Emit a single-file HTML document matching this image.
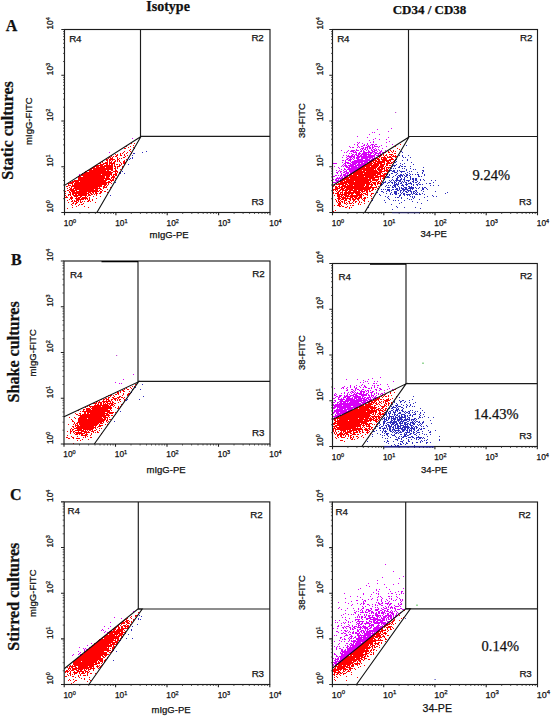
<!DOCTYPE html>
<html><head><meta charset="utf-8"><title>Flow cytometry CD34/CD38</title>
<style>html,body{margin:0;padding:0;background:#fff;width:551px;height:716px;overflow:hidden}svg{display:block}</style>
</head><body>
<svg width="551" height="716" viewBox="0 0 551 716" font-family='"Liberation Sans", sans-serif' fill="#111">
<style>text{stroke:#111;stroke-width:0.25px}</style>
<rect width="551" height="716" fill="#fff"/>
<g stroke-width="1" transform="translate(0,0.5)"><path stroke="#ff0000" d="M65 191h1M65 193h1M65 195h1M65 197h1M66 186h1M66 196h1M66 197h1M66 212h1M67 183h1M67 186h1M67 188h1M67 190h1M67 197h1M67 200h1M67 208h1M68 183h1M68 184h1M68 185h1M68 190h1M68 194h1M68 195h1M68 202h1M68 212h1M69 183h1M69 185h1M69 187h1M69 189h1M69 191h1M69 192h1M69 194h1M69 199h1M69 212h1M70 182h1M70 183h1M70 185h1M70 188h1M70 189h1M70 190h1M70 192h1M70 193h1M70 194h1M70 195h1M70 197h1M70 198h1M71 182h1M71 183h1M71 186h1M71 187h1M71 188h1M71 189h1M71 190h1M71 191h1M71 196h1M71 197h1M71 198h1M71 199h1M71 201h1M71 204h1M72 181h1M72 182h1M72 183h1M72 184h1M72 185h1M72 186h1M72 189h1M72 190h1M72 191h1M72 192h1M72 193h1M72 194h1M72 197h1M72 198h1M72 200h1M72 201h1M72 203h1M72 205h1M72 207h1M73 181h1M73 182h1M73 185h1M73 186h1M73 188h1M73 189h1M73 190h1M73 191h1M73 192h1M73 193h1M73 194h1M73 195h1M73 202h1M73 203h1M74 180h1M74 181h1M74 183h1M74 184h1M74 185h1M74 186h1M74 187h1M74 188h1M74 190h1M74 191h1M74 192h1M74 193h1M74 195h1M74 196h1M74 200h1M74 201h1M75 180h1M75 181h1M75 182h1M75 183h1M75 184h1M75 185h1M75 186h1M75 187h1M75 188h1M75 189h1M75 190h1M75 192h1M75 193h1M75 194h1M75 195h1M75 196h1M75 198h1M75 201h1M75 203h1M75 204h1M76 177h1M76 180h1M76 181h1M76 182h1M76 183h1M76 184h1M76 185h1M76 186h1M76 187h1M76 188h1M76 189h1M76 190h1M76 191h1M76 192h1M76 193h1M76 194h1M76 195h1M76 196h1M76 197h1M76 198h1M76 199h1M76 200h1M76 201h1M76 202h1M76 203h1M76 206h1M77 180h1M77 181h1M77 182h1M77 183h1M77 184h1M77 185h1M77 186h1M77 187h1M77 188h1M77 189h1M77 191h1M77 192h1M77 193h1M77 195h1M77 196h1M77 198h1M77 199h1M77 200h1M77 202h1M78 176h1M78 177h1M78 178h1M78 179h1M78 180h1M78 181h1M78 182h1M78 183h1M78 184h1M78 185h1M78 186h1M78 187h1M78 188h1M78 189h1M78 191h1M78 192h1M78 193h1M78 194h1M78 195h1M78 197h1M78 198h1M78 199h1M78 200h1M78 201h1M78 205h1M79 175h1M79 176h1M79 177h1M79 178h1M79 179h1M79 180h1M79 182h1M79 183h1M79 184h1M79 185h1M79 186h1M79 187h1M79 188h1M79 189h1M79 190h1M79 191h1M79 192h1M79 193h1M79 194h1M79 195h1M79 197h1M79 198h1M79 199h1M79 204h1M80 176h1M80 177h1M80 178h1M80 179h1M80 180h1M80 181h1M80 182h1M80 183h1M80 184h1M80 185h1M80 186h1M80 187h1M80 188h1M80 189h1M80 190h1M80 191h1M80 192h1M80 193h1M80 194h1M80 195h1M80 196h1M80 197h1M80 199h1M80 200h1M80 201h1M80 202h1M81 174h1M81 175h1M81 177h1M81 178h1M81 179h1M81 180h1M81 181h1M81 182h1M81 183h1M81 184h1M81 185h1M81 186h1M81 187h1M81 188h1M81 189h1M81 190h1M81 191h1M81 192h1M81 193h1M81 194h1M81 195h1M81 196h1M81 198h1M81 199h1M81 202h1M81 204h1M82 173h1M82 174h1M82 175h1M82 177h1M82 178h1M82 179h1M82 180h1M82 181h1M82 182h1M82 183h1M82 184h1M82 185h1M82 186h1M82 187h1M82 188h1M82 189h1M82 190h1M82 191h1M82 192h1M82 193h1M82 194h1M82 195h1M82 197h1M82 198h1M82 199h1M82 201h1M82 204h1M83 174h1M83 175h1M83 176h1M83 177h1M83 178h1M83 179h1M83 180h1M83 181h1M83 182h1M83 183h1M83 184h1M83 185h1M83 186h1M83 187h1M83 188h1M83 189h1M83 190h1M83 191h1M83 192h1M83 193h1M83 194h1M83 195h1M83 197h1M83 198h1M83 199h1M83 203h1M84 172h1M84 173h1M84 174h1M84 175h1M84 176h1M84 177h1M84 178h1M84 179h1M84 180h1M84 181h1M84 182h1M84 183h1M84 184h1M84 185h1M84 186h1M84 187h1M84 188h1M84 189h1M84 190h1M84 191h1M84 192h1M84 193h1M84 194h1M84 195h1M84 197h1M84 198h1M84 201h1M84 206h1M85 171h1M85 172h1M85 173h1M85 174h1M85 175h1M85 176h1M85 177h1M85 178h1M85 179h1M85 180h1M85 181h1M85 182h1M85 183h1M85 184h1M85 185h1M85 186h1M85 187h1M85 188h1M85 189h1M85 190h1M85 191h1M85 192h1M85 193h1M85 194h1M85 195h1M85 196h1M85 197h1M85 198h1M85 199h1M86 171h1M86 172h1M86 173h1M86 174h1M86 175h1M86 176h1M86 177h1M86 178h1M86 179h1M86 180h1M86 181h1M86 182h1M86 183h1M86 184h1M86 185h1M86 186h1M86 187h1M86 188h1M86 189h1M86 190h1M86 191h1M86 192h1M86 193h1M86 194h1M86 195h1M86 197h1M86 198h1M87 170h1M87 172h1M87 173h1M87 174h1M87 175h1M87 176h1M87 177h1M87 178h1M87 179h1M87 180h1M87 181h1M87 182h1M87 183h1M87 184h1M87 185h1M87 186h1M87 187h1M87 188h1M87 189h1M87 190h1M87 191h1M87 193h1M87 196h1M87 198h1M87 199h1M87 201h1M88 170h1M88 172h1M88 173h1M88 174h1M88 175h1M88 176h1M88 177h1M88 178h1M88 179h1M88 180h1M88 181h1M88 182h1M88 183h1M88 184h1M88 185h1M88 186h1M88 187h1M88 188h1M88 189h1M88 190h1M88 191h1M88 192h1M88 193h1M88 194h1M88 195h1M88 200h1M88 201h1M88 207h1M89 170h1M89 171h1M89 172h1M89 173h1M89 174h1M89 175h1M89 176h1M89 177h1M89 178h1M89 179h1M89 180h1M89 181h1M89 182h1M89 183h1M89 184h1M89 185h1M89 186h1M89 187h1M89 188h1M89 189h1M89 190h1M89 191h1M89 192h1M89 194h1M89 195h1M89 197h1M89 198h1M89 199h1M89 200h1M90 169h1M90 170h1M90 171h1M90 172h1M90 173h1M90 174h1M90 175h1M90 176h1M90 177h1M90 178h1M90 179h1M90 180h1M90 181h1M90 182h1M90 183h1M90 184h1M90 185h1M90 186h1M90 187h1M90 188h1M90 189h1M90 190h1M90 191h1M90 192h1M90 193h1M90 195h1M90 201h1M91 168h1M91 169h1M91 170h1M91 171h1M91 172h1M91 173h1M91 174h1M91 175h1M91 176h1M91 177h1M91 178h1M91 179h1M91 180h1M91 181h1M91 182h1M91 183h1M91 184h1M91 185h1M91 186h1M91 187h1M91 188h1M91 189h1M91 190h1M91 191h1M91 193h1M91 194h1M92 167h1M92 168h1M92 170h1M92 171h1M92 172h1M92 173h1M92 174h1M92 175h1M92 176h1M92 177h1M92 178h1M92 179h1M92 180h1M92 181h1M92 182h1M92 183h1M92 184h1M92 185h1M92 186h1M92 187h1M92 188h1M92 189h1M92 190h1M92 191h1M92 192h1M92 194h1M92 199h1M92 200h1M93 167h1M93 168h1M93 169h1M93 170h1M93 171h1M93 172h1M93 173h1M93 174h1M93 175h1M93 176h1M93 177h1M93 178h1M93 179h1M93 180h1M93 181h1M93 182h1M93 183h1M93 184h1M93 185h1M93 186h1M93 187h1M93 188h1M93 189h1M93 190h1M93 191h1M93 192h1M93 193h1M93 196h1M94 166h1M94 167h1M94 168h1M94 169h1M94 170h1M94 171h1M94 172h1M94 173h1M94 174h1M94 175h1M94 176h1M94 177h1M94 178h1M94 179h1M94 180h1M94 181h1M94 182h1M94 183h1M94 184h1M94 185h1M94 186h1M94 187h1M94 188h1M94 190h1M94 191h1M94 194h1M95 165h1M95 166h1M95 168h1M95 169h1M95 170h1M95 171h1M95 172h1M95 173h1M95 174h1M95 175h1M95 176h1M95 177h1M95 178h1M95 179h1M95 180h1M95 181h1M95 182h1M95 183h1M95 184h1M95 185h1M95 186h1M95 187h1M95 188h1M95 189h1M95 190h1M95 191h1M95 192h1M95 193h1M95 202h1M96 165h1M96 166h1M96 167h1M96 168h1M96 169h1M96 170h1M96 171h1M96 172h1M96 173h1M96 174h1M96 175h1M96 176h1M96 177h1M96 178h1M96 179h1M96 180h1M96 181h1M96 182h1M96 183h1M96 184h1M96 185h1M96 186h1M96 187h1M96 188h1M96 189h1M96 190h1M96 191h1M96 192h1M96 193h1M96 194h1M96 195h1M96 198h1M97 165h1M97 166h1M97 167h1M97 168h1M97 169h1M97 170h1M97 171h1M97 172h1M97 173h1M97 174h1M97 175h1M97 176h1M97 177h1M97 178h1M97 179h1M97 180h1M97 181h1M97 182h1M97 183h1M97 184h1M97 185h1M97 186h1M97 187h1M97 188h1M97 189h1M97 190h1M97 191h1M97 193h1M98 163h1M98 165h1M98 166h1M98 167h1M98 168h1M98 169h1M98 170h1M98 171h1M98 172h1M98 173h1M98 174h1M98 175h1M98 176h1M98 177h1M98 178h1M98 179h1M98 180h1M98 181h1M98 182h1M98 183h1M98 184h1M98 185h1M98 186h1M98 188h1M98 191h1M99 163h1M99 165h1M99 167h1M99 168h1M99 169h1M99 170h1M99 171h1M99 172h1M99 173h1M99 174h1M99 175h1M99 176h1M99 177h1M99 178h1M99 179h1M99 180h1M99 181h1M99 182h1M99 183h1M99 184h1M99 185h1M99 186h1M99 187h1M99 188h1M99 190h1M99 193h1M100 162h1M100 163h1M100 164h1M100 165h1M100 166h1M100 167h1M100 168h1M100 169h1M100 170h1M100 171h1M100 172h1M100 173h1M100 174h1M100 175h1M100 176h1M100 177h1M100 178h1M100 179h1M100 180h1M100 181h1M100 182h1M100 183h1M100 184h1M100 185h1M100 186h1M100 188h1M100 189h1M100 191h1M100 192h1M100 193h1M100 196h1M101 164h1M101 165h1M101 166h1M101 167h1M101 168h1M101 169h1M101 170h1M101 171h1M101 172h1M101 173h1M101 175h1M101 176h1M101 177h1M101 178h1M101 179h1M101 180h1M101 181h1M101 182h1M101 183h1M101 184h1M101 185h1M101 186h1M101 189h1M101 191h1M101 192h1M102 161h1M102 162h1M102 164h1M102 165h1M102 166h1M102 167h1M102 168h1M102 169h1M102 170h1M102 171h1M102 172h1M102 173h1M102 174h1M102 175h1M102 176h1M102 177h1M102 178h1M102 179h1M102 180h1M102 181h1M102 182h1M102 183h1M102 184h1M102 190h1M103 160h1M103 163h1M103 164h1M103 166h1M103 167h1M103 168h1M103 169h1M103 170h1M103 171h1M103 172h1M103 173h1M103 174h1M103 175h1M103 176h1M103 177h1M103 178h1M103 179h1M103 180h1M103 181h1M103 182h1M103 183h1M103 184h1M103 186h1M103 187h1M103 188h1M104 163h1M104 165h1M104 166h1M104 167h1M104 168h1M104 169h1M104 170h1M104 171h1M104 172h1M104 173h1M104 174h1M104 175h1M104 176h1M104 177h1M104 178h1M104 180h1M104 181h1M104 182h1M104 183h1M104 184h1M104 185h1M104 186h1M104 187h1M104 191h1M105 162h1M105 163h1M105 165h1M105 166h1M105 168h1M105 169h1M105 170h1M105 171h1M105 172h1M105 173h1M105 174h1M105 175h1M105 178h1M105 179h1M105 180h1M105 181h1M105 182h1M105 183h1M105 184h1M105 185h1M105 187h1M105 191h1M106 159h1M106 160h1M106 162h1M106 163h1M106 164h1M106 165h1M106 166h1M106 167h1M106 168h1M106 169h1M106 171h1M106 172h1M106 173h1M106 174h1M106 175h1M106 176h1M106 177h1M106 178h1M106 179h1M106 180h1M106 182h1M106 183h1M106 184h1M106 186h1M106 187h1M107 159h1M107 160h1M107 161h1M107 162h1M107 163h1M107 164h1M107 165h1M107 166h1M107 167h1M107 168h1M107 169h1M107 170h1M107 171h1M107 172h1M107 173h1M107 174h1M107 175h1M107 176h1M107 177h1M107 178h1M107 179h1M107 182h1M107 185h1M107 189h1M107 192h1M108 158h1M108 165h1M108 166h1M108 167h1M108 168h1M108 169h1M108 170h1M108 171h1M108 172h1M108 173h1M108 174h1M108 175h1M108 176h1M108 177h1M108 178h1M108 179h1M108 181h1M108 182h1M108 183h1M108 184h1M109 157h1M109 159h1M109 160h1M109 161h1M109 162h1M109 163h1M109 164h1M109 165h1M109 166h1M109 167h1M109 168h1M109 169h1M109 171h1M109 172h1M109 173h1M109 174h1M109 175h1M109 176h1M109 178h1M109 179h1M109 181h1M109 182h1M110 157h1M110 158h1M110 159h1M110 160h1M110 162h1M110 163h1M110 165h1M110 166h1M110 167h1M110 168h1M110 169h1M110 171h1M110 172h1M110 173h1M110 174h1M110 179h1M110 180h1M110 182h1M110 187h1M111 155h1M111 156h1M111 158h1M111 159h1M111 161h1M111 162h1M111 163h1M111 164h1M111 165h1M111 166h1M111 167h1M111 168h1M111 169h1M111 170h1M111 172h1M111 173h1M111 174h1M111 175h1M111 177h1M111 178h1M111 180h1M111 181h1M111 183h1M112 157h1M112 158h1M112 159h1M112 160h1M112 163h1M112 164h1M112 165h1M112 166h1M112 167h1M112 168h1M112 169h1M112 170h1M112 172h1M112 176h1M112 177h1M112 179h1M112 180h1M113 156h1M113 159h1M113 162h1M113 163h1M113 171h1M113 174h1M113 175h1M113 176h1M113 177h1M113 178h1M113 179h1M113 180h1M114 159h1M114 161h1M114 162h1M114 163h1M114 164h1M114 165h1M114 166h1M114 168h1M114 171h1M114 174h1M114 176h1M114 177h1M115 154h1M115 156h1M115 160h1M115 161h1M115 166h1M115 167h1M115 168h1M115 169h1M115 170h1M115 171h1M115 172h1M115 173h1M115 174h1M115 175h1M115 178h1M116 155h1M116 156h1M116 164h1M116 170h1M116 171h1M116 173h1M116 174h1M116 175h1M117 154h1M117 155h1M117 157h1M117 158h1M117 159h1M117 160h1M117 161h1M117 164h1M117 166h1M117 167h1M117 168h1M117 171h1M117 172h1M118 159h1M118 166h1M119 158h1M119 160h1M119 161h1M119 164h1M119 165h1M119 166h1M119 172h1M120 153h1M120 154h1M120 155h1M120 162h1M120 165h1M120 169h1M121 155h1M121 158h1M121 163h1M121 164h1M122 153h1M122 166h1M122 167h1M123 152h1M123 157h1M123 161h1M123 162h1M123 163h1M124 148h1M124 151h1M124 154h1M124 155h1M124 157h1M124 160h1M124 161h1M124 162h1M124 163h1M124 164h1M125 148h1M125 156h1M125 162h1M126 146h1M126 153h1M126 159h1M127 152h1M127 155h1M128 147h1M128 157h1M129 150h1M130 146h1M130 149h1M130 151h1M131 143h1M131 152h1M131 153h1M133 145h1M133 147h1M134 143h1M136 139h1"/><path stroke="#d800f8" d="M76 177h1M79 174h1M109 152h1M132 138h1"/><path stroke="#2e2ebc" d="M110 195h1M115 182h1M120 172h1M120 173h1M122 171h1M124 173h1M127 160h1M128 164h1M129 159h1M130 158h1M132 155h1M132 157h1M132 158h1M133 149h1M133 153h1M134 148h1M134 153h1M142 152h1M146 151h1"/></g><g stroke-width="1" transform="translate(0,0.5)"><path stroke="#ff0000" d="M333 186h1M333 189h1M333 190h1M333 192h1M333 193h1M333 211h1M334 184h1M334 185h1M334 189h1M334 195h1M334 205h1M335 186h1M335 187h1M335 188h1M335 189h1M335 190h1M335 193h1M335 199h1M335 210h1M336 183h1M336 184h1M336 186h1M336 187h1M336 188h1M336 189h1M336 191h1M336 193h1M336 200h1M336 201h1M337 182h1M337 184h1M337 187h1M337 188h1M337 189h1M337 190h1M337 192h1M337 193h1M337 194h1M337 195h1M337 196h1M337 198h1M337 202h1M337 205h1M338 183h1M338 184h1M338 186h1M338 188h1M338 191h1M338 192h1M338 193h1M338 194h1M338 195h1M338 196h1M338 197h1M338 198h1M338 199h1M338 200h1M338 201h1M338 203h1M338 204h1M338 205h1M339 181h1M339 183h1M339 184h1M339 185h1M339 186h1M339 187h1M339 188h1M339 190h1M339 191h1M339 194h1M339 195h1M339 196h1M339 197h1M339 198h1M339 199h1M339 201h1M339 202h1M339 203h1M339 204h1M339 205h1M339 206h1M340 181h1M340 182h1M340 183h1M340 184h1M340 187h1M340 189h1M340 190h1M340 192h1M340 193h1M340 194h1M340 196h1M340 198h1M340 200h1M340 202h1M340 203h1M340 204h1M340 206h1M341 181h1M341 182h1M341 183h1M341 184h1M341 186h1M341 187h1M341 188h1M341 189h1M341 192h1M341 194h1M341 195h1M341 196h1M341 197h1M341 199h1M341 201h1M341 205h1M342 179h1M342 180h1M342 181h1M342 182h1M342 183h1M342 184h1M342 185h1M342 186h1M342 187h1M342 188h1M342 189h1M342 190h1M342 191h1M342 192h1M342 193h1M342 194h1M342 195h1M342 197h1M342 198h1M342 199h1M342 201h1M342 202h1M342 206h1M343 178h1M343 179h1M343 180h1M343 182h1M343 183h1M343 184h1M343 185h1M343 186h1M343 188h1M343 189h1M343 190h1M343 194h1M343 196h1M343 197h1M343 198h1M343 199h1M343 206h1M344 178h1M344 179h1M344 180h1M344 181h1M344 182h1M344 183h1M344 185h1M344 186h1M344 187h1M344 188h1M344 190h1M344 192h1M344 193h1M344 194h1M344 195h1M344 197h1M344 198h1M344 200h1M344 201h1M344 202h1M344 203h1M345 178h1M345 179h1M345 181h1M345 182h1M345 183h1M345 184h1M345 185h1M345 186h1M345 187h1M345 189h1M345 190h1M345 191h1M345 192h1M345 193h1M345 194h1M345 195h1M345 196h1M345 197h1M345 198h1M345 199h1M345 200h1M345 203h1M345 207h1M346 177h1M346 178h1M346 179h1M346 180h1M346 181h1M346 182h1M346 183h1M346 184h1M346 186h1M346 187h1M346 188h1M346 189h1M346 190h1M346 191h1M346 192h1M346 193h1M346 194h1M346 195h1M346 196h1M346 198h1M346 199h1M346 200h1M346 202h1M346 204h1M346 207h1M347 176h1M347 177h1M347 178h1M347 179h1M347 180h1M347 181h1M347 182h1M347 184h1M347 185h1M347 186h1M347 187h1M347 188h1M347 189h1M347 190h1M347 192h1M347 193h1M347 195h1M347 196h1M347 197h1M347 198h1M347 203h1M347 206h1M348 175h1M348 177h1M348 178h1M348 179h1M348 180h1M348 181h1M348 182h1M348 183h1M348 185h1M348 186h1M348 187h1M348 188h1M348 189h1M348 191h1M348 192h1M348 193h1M348 194h1M348 195h1M348 196h1M348 198h1M348 201h1M349 174h1M349 175h1M349 176h1M349 177h1M349 179h1M349 180h1M349 181h1M349 182h1M349 183h1M349 184h1M349 185h1M349 186h1M349 187h1M349 188h1M349 189h1M349 190h1M349 191h1M349 192h1M349 193h1M349 194h1M349 196h1M349 198h1M349 199h1M349 201h1M349 202h1M349 203h1M349 207h1M349 208h1M350 174h1M350 175h1M350 176h1M350 177h1M350 178h1M350 179h1M350 180h1M350 181h1M350 182h1M350 183h1M350 184h1M350 185h1M350 186h1M350 187h1M350 188h1M350 189h1M350 190h1M350 191h1M350 192h1M350 193h1M350 195h1M350 196h1M350 197h1M350 198h1M350 199h1M350 200h1M350 203h1M350 205h1M351 174h1M351 175h1M351 176h1M351 177h1M351 178h1M351 179h1M351 180h1M351 181h1M351 182h1M351 183h1M351 184h1M351 185h1M351 186h1M351 187h1M351 188h1M351 189h1M351 190h1M351 192h1M351 193h1M351 194h1M351 195h1M351 196h1M351 197h1M351 203h1M351 207h1M352 173h1M352 175h1M352 176h1M352 177h1M352 178h1M352 179h1M352 180h1M352 181h1M352 182h1M352 183h1M352 184h1M352 185h1M352 186h1M352 187h1M352 188h1M352 189h1M352 190h1M352 192h1M352 193h1M352 194h1M352 195h1M352 196h1M352 197h1M352 198h1M352 199h1M352 202h1M352 205h1M353 172h1M353 173h1M353 174h1M353 175h1M353 176h1M353 177h1M353 178h1M353 179h1M353 180h1M353 181h1M353 182h1M353 183h1M353 184h1M353 186h1M353 187h1M353 188h1M353 190h1M353 191h1M353 192h1M353 193h1M353 195h1M353 196h1M353 198h1M353 199h1M353 200h1M353 201h1M353 203h1M353 205h1M354 171h1M354 172h1M354 173h1M354 174h1M354 175h1M354 176h1M354 177h1M354 178h1M354 179h1M354 180h1M354 182h1M354 183h1M354 184h1M354 185h1M354 186h1M354 187h1M354 188h1M354 189h1M354 190h1M354 191h1M354 192h1M354 195h1M354 196h1M354 197h1M354 199h1M354 200h1M355 171h1M355 172h1M355 173h1M355 174h1M355 175h1M355 176h1M355 177h1M355 178h1M355 179h1M355 180h1M355 181h1M355 182h1M355 183h1M355 184h1M355 185h1M355 186h1M355 187h1M355 188h1M355 189h1M355 190h1M355 191h1M355 192h1M355 193h1M355 195h1M355 196h1M355 197h1M355 198h1M355 199h1M355 201h1M355 202h1M355 212h1M356 171h1M356 172h1M356 173h1M356 174h1M356 175h1M356 176h1M356 177h1M356 178h1M356 179h1M356 180h1M356 181h1M356 182h1M356 183h1M356 184h1M356 185h1M356 186h1M356 187h1M356 188h1M356 189h1M356 190h1M356 191h1M356 192h1M356 193h1M356 194h1M356 195h1M356 196h1M356 197h1M356 198h1M356 201h1M357 170h1M357 171h1M357 172h1M357 173h1M357 174h1M357 176h1M357 177h1M357 178h1M357 179h1M357 180h1M357 181h1M357 182h1M357 183h1M357 184h1M357 185h1M357 186h1M357 187h1M357 188h1M357 189h1M357 191h1M357 192h1M357 193h1M357 194h1M357 195h1M357 196h1M357 198h1M357 199h1M358 169h1M358 170h1M358 171h1M358 172h1M358 173h1M358 174h1M358 175h1M358 176h1M358 177h1M358 178h1M358 179h1M358 180h1M358 181h1M358 182h1M358 183h1M358 184h1M358 185h1M358 186h1M358 187h1M358 188h1M358 189h1M358 190h1M358 191h1M358 192h1M358 193h1M358 194h1M358 195h1M358 197h1M358 198h1M358 199h1M358 200h1M358 203h1M358 204h1M359 168h1M359 169h1M359 170h1M359 171h1M359 172h1M359 173h1M359 174h1M359 175h1M359 176h1M359 177h1M359 178h1M359 179h1M359 180h1M359 181h1M359 182h1M359 183h1M359 184h1M359 185h1M359 186h1M359 187h1M359 188h1M359 189h1M359 190h1M359 191h1M359 192h1M359 193h1M359 194h1M359 195h1M359 196h1M359 197h1M359 198h1M359 201h1M359 202h1M360 168h1M360 169h1M360 170h1M360 171h1M360 172h1M360 173h1M360 174h1M360 175h1M360 176h1M360 177h1M360 178h1M360 179h1M360 180h1M360 181h1M360 182h1M360 183h1M360 184h1M360 185h1M360 186h1M360 187h1M360 188h1M360 189h1M360 190h1M360 192h1M360 194h1M360 195h1M360 196h1M360 197h1M360 204h1M361 167h1M361 168h1M361 169h1M361 170h1M361 171h1M361 172h1M361 173h1M361 174h1M361 175h1M361 176h1M361 177h1M361 178h1M361 179h1M361 180h1M361 181h1M361 182h1M361 183h1M361 184h1M361 185h1M361 186h1M361 187h1M361 188h1M361 189h1M361 190h1M361 191h1M361 193h1M361 194h1M361 195h1M361 196h1M361 197h1M361 198h1M361 202h1M362 166h1M362 167h1M362 168h1M362 169h1M362 171h1M362 172h1M362 173h1M362 174h1M362 175h1M362 176h1M362 177h1M362 178h1M362 179h1M362 180h1M362 181h1M362 182h1M362 183h1M362 184h1M362 185h1M362 186h1M362 187h1M362 188h1M362 189h1M362 190h1M362 191h1M362 192h1M362 194h1M362 199h1M363 166h1M363 167h1M363 168h1M363 169h1M363 170h1M363 171h1M363 172h1M363 174h1M363 175h1M363 176h1M363 177h1M363 178h1M363 179h1M363 180h1M363 181h1M363 182h1M363 183h1M363 184h1M363 185h1M363 186h1M363 187h1M363 188h1M363 189h1M363 191h1M363 193h1M363 195h1M363 198h1M363 200h1M364 165h1M364 166h1M364 167h1M364 168h1M364 169h1M364 170h1M364 171h1M364 172h1M364 173h1M364 174h1M364 175h1M364 177h1M364 178h1M364 179h1M364 180h1M364 181h1M364 182h1M364 183h1M364 184h1M364 185h1M364 187h1M364 188h1M364 189h1M364 190h1M364 191h1M364 193h1M364 197h1M364 198h1M364 199h1M364 200h1M364 201h1M364 203h1M365 164h1M365 165h1M365 166h1M365 168h1M365 169h1M365 170h1M365 172h1M365 173h1M365 174h1M365 175h1M365 176h1M365 177h1M365 178h1M365 179h1M365 180h1M365 181h1M365 182h1M365 183h1M365 186h1M365 187h1M365 188h1M365 189h1M365 190h1M365 193h1M365 194h1M365 197h1M365 198h1M366 164h1M366 165h1M366 166h1M366 167h1M366 168h1M366 169h1M366 170h1M366 171h1M366 172h1M366 173h1M366 174h1M366 175h1M366 176h1M366 177h1M366 178h1M366 179h1M366 180h1M366 181h1M366 182h1M366 183h1M366 184h1M366 185h1M366 186h1M366 187h1M366 188h1M366 189h1M366 190h1M366 191h1M366 192h1M366 194h1M367 164h1M367 165h1M367 166h1M367 167h1M367 168h1M367 169h1M367 170h1M367 171h1M367 172h1M367 173h1M367 174h1M367 175h1M367 176h1M367 177h1M367 178h1M367 179h1M367 180h1M367 181h1M367 182h1M367 183h1M367 184h1M367 185h1M367 186h1M367 187h1M367 188h1M367 189h1M367 190h1M367 191h1M367 192h1M367 193h1M367 194h1M367 195h1M367 197h1M368 162h1M368 163h1M368 164h1M368 165h1M368 166h1M368 167h1M368 168h1M368 169h1M368 170h1M368 171h1M368 172h1M368 173h1M368 174h1M368 175h1M368 176h1M368 177h1M368 179h1M368 180h1M368 181h1M368 182h1M368 183h1M368 184h1M368 185h1M368 186h1M368 187h1M368 188h1M368 189h1M368 201h1M369 161h1M369 162h1M369 163h1M369 164h1M369 165h1M369 166h1M369 167h1M369 168h1M369 169h1M369 170h1M369 171h1M369 172h1M369 173h1M369 174h1M369 175h1M369 176h1M369 177h1M369 178h1M369 179h1M369 180h1M369 182h1M369 183h1M369 184h1M369 187h1M369 188h1M369 189h1M369 190h1M369 191h1M370 162h1M370 163h1M370 164h1M370 165h1M370 167h1M370 168h1M370 169h1M370 170h1M370 171h1M370 172h1M370 173h1M370 174h1M370 175h1M370 176h1M370 177h1M370 178h1M370 179h1M370 180h1M370 181h1M370 182h1M370 184h1M370 186h1M370 187h1M370 188h1M370 191h1M370 195h1M371 161h1M371 162h1M371 163h1M371 164h1M371 165h1M371 166h1M371 167h1M371 168h1M371 169h1M371 170h1M371 171h1M371 172h1M371 173h1M371 174h1M371 175h1M371 176h1M371 177h1M371 178h1M371 181h1M371 183h1M371 184h1M371 185h1M371 186h1M371 187h1M371 190h1M371 193h1M371 194h1M371 196h1M371 198h1M372 160h1M372 161h1M372 163h1M372 165h1M372 166h1M372 167h1M372 168h1M372 169h1M372 170h1M372 171h1M372 172h1M372 173h1M372 174h1M372 175h1M372 176h1M372 177h1M372 178h1M372 179h1M372 180h1M372 182h1M372 184h1M372 185h1M372 187h1M372 188h1M372 189h1M372 190h1M372 193h1M373 159h1M373 160h1M373 161h1M373 162h1M373 164h1M373 165h1M373 166h1M373 167h1M373 168h1M373 169h1M373 170h1M373 171h1M373 172h1M373 173h1M373 174h1M373 175h1M373 176h1M373 177h1M373 178h1M373 179h1M373 180h1M373 182h1M373 183h1M373 187h1M373 188h1M373 189h1M373 193h1M374 160h1M374 162h1M374 163h1M374 164h1M374 165h1M374 166h1M374 167h1M374 168h1M374 170h1M374 171h1M374 172h1M374 173h1M374 174h1M374 175h1M374 177h1M374 178h1M374 179h1M374 180h1M374 182h1M374 183h1M374 184h1M374 187h1M375 158h1M375 159h1M375 160h1M375 161h1M375 162h1M375 163h1M375 164h1M375 165h1M375 166h1M375 167h1M375 168h1M375 169h1M375 170h1M375 171h1M375 172h1M375 173h1M375 174h1M375 175h1M375 176h1M375 177h1M375 179h1M375 180h1M375 182h1M375 183h1M375 184h1M375 185h1M375 187h1M375 189h1M376 158h1M376 160h1M376 161h1M376 163h1M376 164h1M376 165h1M376 166h1M376 167h1M376 170h1M376 171h1M376 172h1M376 173h1M376 175h1M376 176h1M376 177h1M376 179h1M376 180h1M376 181h1M376 186h1M376 187h1M377 158h1M377 159h1M377 161h1M377 162h1M377 163h1M377 164h1M377 165h1M377 166h1M377 168h1M377 169h1M377 171h1M377 172h1M377 173h1M377 174h1M377 175h1M377 176h1M377 177h1M377 179h1M377 180h1M377 182h1M377 183h1M377 184h1M377 188h1M378 158h1M378 159h1M378 160h1M378 161h1M378 162h1M378 163h1M378 164h1M378 165h1M378 167h1M378 168h1M378 169h1M378 170h1M378 172h1M378 173h1M378 174h1M378 176h1M378 177h1M378 178h1M378 179h1M378 181h1M378 182h1M378 183h1M378 186h1M379 156h1M379 157h1M379 159h1M379 160h1M379 161h1M379 162h1M379 163h1M379 166h1M379 167h1M379 168h1M379 169h1M379 170h1M379 171h1M379 172h1M379 173h1M379 174h1M379 176h1M379 181h1M379 183h1M380 155h1M380 156h1M380 161h1M380 162h1M380 163h1M380 164h1M380 165h1M380 166h1M380 167h1M380 169h1M380 170h1M380 171h1M380 172h1M380 173h1M380 174h1M380 175h1M380 176h1M380 177h1M380 178h1M380 179h1M380 182h1M380 183h1M380 184h1M381 155h1M381 157h1M381 158h1M381 159h1M381 161h1M381 162h1M381 163h1M381 164h1M381 165h1M381 166h1M381 167h1M381 168h1M381 169h1M381 170h1M381 171h1M381 172h1M381 175h1M381 176h1M381 180h1M381 181h1M381 183h1M382 157h1M382 159h1M382 160h1M382 161h1M382 162h1M382 164h1M382 165h1M382 166h1M382 167h1M382 168h1M382 169h1M382 171h1M382 173h1M382 175h1M382 176h1M382 178h1M383 154h1M383 155h1M383 157h1M383 158h1M383 159h1M383 160h1M383 161h1M383 162h1M383 164h1M383 165h1M383 166h1M383 168h1M383 171h1M383 174h1M383 175h1M383 176h1M383 177h1M383 178h1M384 156h1M384 157h1M384 158h1M384 159h1M384 160h1M384 161h1M384 162h1M384 163h1M384 164h1M384 167h1M384 168h1M384 169h1M384 170h1M384 171h1M384 173h1M384 174h1M384 175h1M384 176h1M384 177h1M384 178h1M385 152h1M385 155h1M385 157h1M385 158h1M385 159h1M385 160h1M385 166h1M385 170h1M385 173h1M385 174h1M385 176h1M386 154h1M386 155h1M386 158h1M386 159h1M386 160h1M386 161h1M386 163h1M386 164h1M386 165h1M386 167h1M386 168h1M386 169h1M386 170h1M386 171h1M386 173h1M386 174h1M387 156h1M387 157h1M387 160h1M387 161h1M387 162h1M387 163h1M387 164h1M387 165h1M387 167h1M387 169h1M387 170h1M387 171h1M387 172h1M387 173h1M388 151h1M388 152h1M388 157h1M388 160h1M388 161h1M388 162h1M388 163h1M388 167h1M388 168h1M388 170h1M389 152h1M389 154h1M389 156h1M389 157h1M389 159h1M389 160h1M389 162h1M389 163h1M389 165h1M389 167h1M390 150h1M390 154h1M390 156h1M390 157h1M390 159h1M390 160h1M390 161h1M390 163h1M390 165h1M390 167h1M391 151h1M391 154h1M391 155h1M391 157h1M391 158h1M391 159h1M391 162h1M391 163h1M392 152h1M392 154h1M392 156h1M392 158h1M392 159h1M392 162h1M392 164h1M393 150h1M393 151h1M393 155h1M393 156h1M393 159h1M393 161h1M393 163h1M394 153h1M394 156h1M394 160h1M394 161h1M395 146h1M395 151h1M395 153h1M395 155h1M395 156h1M395 157h1M395 159h1M396 156h1M397 148h1M399 149h1M400 144h1"/><path stroke="#d800f8" d="M333 163h1M333 176h1M333 179h1M333 182h1M334 163h1M334 166h1M334 176h1M334 182h1M335 163h1M335 175h1M335 179h1M335 180h1M335 182h1M336 163h1M336 170h1M336 172h1M336 175h1M336 178h1M336 179h1M336 180h1M336 181h1M337 172h1M337 173h1M337 177h1M337 178h1M337 180h1M337 181h1M337 182h1M338 167h1M338 171h1M338 175h1M338 178h1M338 179h1M338 180h1M339 168h1M339 170h1M339 177h1M339 178h1M340 171h1M340 172h1M340 175h1M340 176h1M340 178h1M340 179h1M341 150h1M341 166h1M341 169h1M341 171h1M341 173h1M341 174h1M341 175h1M341 177h1M341 178h1M341 180h1M342 157h1M342 160h1M342 162h1M342 165h1M342 176h1M342 177h1M342 178h1M343 155h1M343 160h1M343 164h1M343 166h1M343 170h1M343 172h1M343 174h1M343 175h1M343 178h1M344 152h1M344 163h1M344 165h1M344 168h1M344 169h1M344 171h1M344 172h1M344 174h1M344 175h1M344 176h1M344 177h1M345 160h1M345 161h1M345 162h1M345 163h1M345 164h1M345 165h1M345 166h1M345 169h1M345 171h1M345 173h1M345 174h1M345 175h1M345 176h1M345 177h1M346 152h1M346 155h1M346 157h1M346 159h1M346 162h1M346 165h1M346 166h1M346 167h1M346 170h1M346 171h1M346 172h1M346 173h1M346 175h1M347 151h1M347 156h1M347 158h1M347 159h1M347 162h1M347 163h1M347 166h1M347 167h1M347 169h1M347 172h1M347 173h1M347 174h1M347 175h1M347 176h1M348 150h1M348 155h1M348 156h1M348 158h1M348 160h1M348 162h1M348 163h1M348 165h1M348 167h1M348 168h1M348 169h1M348 172h1M348 173h1M348 175h1M349 146h1M349 153h1M349 156h1M349 157h1M349 159h1M349 160h1M349 163h1M349 165h1M349 166h1M349 167h1M349 168h1M349 169h1M349 170h1M349 171h1M349 174h1M350 147h1M350 151h1M350 156h1M350 157h1M350 158h1M350 159h1M350 160h1M350 161h1M350 163h1M350 164h1M350 165h1M350 166h1M350 168h1M350 169h1M350 170h1M350 171h1M350 172h1M350 173h1M351 150h1M351 151h1M351 153h1M351 155h1M351 156h1M351 157h1M351 159h1M351 162h1M351 164h1M351 165h1M351 166h1M351 167h1M351 168h1M351 169h1M351 170h1M351 171h1M351 172h1M351 173h1M352 147h1M352 150h1M352 151h1M352 154h1M352 155h1M352 156h1M352 158h1M352 161h1M352 162h1M352 163h1M352 164h1M352 165h1M352 166h1M352 167h1M352 168h1M352 169h1M352 170h1M352 171h1M352 172h1M353 147h1M353 150h1M353 151h1M353 152h1M353 154h1M353 156h1M353 157h1M353 159h1M353 161h1M353 162h1M353 163h1M353 164h1M353 165h1M353 166h1M353 167h1M353 168h1M353 169h1M353 170h1M353 171h1M354 144h1M354 150h1M354 152h1M354 155h1M354 156h1M354 157h1M354 158h1M354 160h1M354 161h1M354 162h1M354 163h1M354 164h1M354 166h1M354 167h1M354 168h1M354 169h1M354 170h1M354 171h1M355 151h1M355 152h1M355 154h1M355 160h1M355 161h1M355 162h1M355 163h1M355 164h1M355 165h1M355 166h1M355 167h1M355 168h1M355 169h1M355 170h1M355 171h1M356 149h1M356 150h1M356 152h1M356 153h1M356 154h1M356 155h1M356 157h1M356 158h1M356 160h1M356 161h1M356 162h1M356 163h1M356 165h1M356 166h1M356 167h1M356 168h1M356 169h1M356 170h1M357 136h1M357 142h1M357 144h1M357 145h1M357 147h1M357 150h1M357 155h1M357 156h1M357 157h1M357 158h1M357 159h1M357 160h1M357 161h1M357 162h1M357 164h1M357 165h1M357 167h1M357 168h1M357 169h1M358 143h1M358 146h1M358 150h1M358 153h1M358 154h1M358 155h1M358 156h1M358 157h1M358 158h1M358 159h1M358 160h1M358 161h1M358 162h1M358 163h1M358 164h1M358 165h1M358 166h1M358 167h1M358 168h1M359 142h1M359 147h1M359 152h1M359 153h1M359 154h1M359 156h1M359 157h1M359 159h1M359 160h1M359 161h1M359 162h1M359 163h1M359 164h1M359 165h1M359 166h1M359 167h1M359 168h1M360 149h1M360 151h1M360 153h1M360 155h1M360 156h1M360 159h1M360 160h1M360 161h1M360 162h1M360 164h1M360 165h1M360 166h1M360 167h1M361 146h1M361 148h1M361 150h1M361 151h1M361 154h1M361 155h1M361 156h1M361 157h1M361 158h1M361 159h1M361 160h1M361 161h1M361 162h1M361 163h1M361 164h1M361 165h1M361 166h1M361 167h1M362 143h1M362 146h1M362 148h1M362 149h1M362 153h1M362 154h1M362 156h1M362 157h1M362 158h1M362 159h1M362 160h1M362 161h1M362 162h1M362 163h1M362 164h1M362 165h1M362 166h1M363 145h1M363 147h1M363 148h1M363 150h1M363 151h1M363 152h1M363 153h1M363 154h1M363 155h1M363 156h1M363 157h1M363 158h1M363 160h1M363 161h1M363 163h1M363 164h1M363 165h1M364 144h1M364 145h1M364 149h1M364 151h1M364 152h1M364 153h1M364 154h1M364 155h1M364 156h1M364 157h1M364 158h1M364 160h1M364 161h1M364 162h1M364 163h1M364 164h1M364 165h1M365 147h1M365 148h1M365 149h1M365 152h1M365 153h1M365 154h1M365 155h1M365 156h1M365 157h1M365 158h1M365 159h1M365 160h1M365 161h1M365 162h1M365 163h1M365 164h1M366 145h1M366 147h1M366 150h1M366 152h1M366 153h1M366 154h1M366 155h1M366 156h1M366 157h1M366 158h1M366 159h1M366 160h1M366 161h1M366 162h1M367 137h1M367 143h1M367 144h1M367 146h1M367 147h1M367 148h1M367 149h1M367 152h1M367 154h1M367 156h1M367 157h1M367 158h1M367 159h1M367 160h1M367 161h1M367 162h1M368 145h1M368 146h1M368 150h1M368 151h1M368 152h1M368 153h1M368 154h1M368 155h1M368 156h1M368 157h1M368 159h1M368 160h1M368 162h1M369 134h1M369 140h1M369 146h1M369 147h1M369 148h1M369 151h1M369 152h1M369 154h1M369 155h1M369 156h1M369 157h1M369 158h1M369 159h1M369 160h1M369 161h1M370 142h1M370 145h1M370 147h1M370 148h1M370 152h1M370 153h1M370 154h1M370 155h1M370 156h1M370 157h1M370 158h1M370 160h1M370 161h1M371 144h1M371 149h1M371 150h1M371 152h1M371 153h1M371 155h1M371 156h1M371 157h1M371 159h1M371 160h1M372 132h1M372 144h1M372 145h1M372 146h1M372 147h1M372 148h1M372 150h1M372 151h1M372 152h1M372 155h1M372 156h1M372 157h1M372 158h1M372 159h1M373 139h1M373 141h1M373 142h1M373 144h1M373 147h1M373 149h1M373 151h1M373 153h1M373 155h1M373 156h1M373 158h1M374 132h1M374 145h1M374 146h1M374 149h1M374 150h1M374 151h1M374 152h1M374 154h1M374 155h1M374 156h1M374 157h1M374 158h1M375 138h1M375 144h1M375 146h1M375 148h1M375 150h1M375 152h1M375 153h1M375 154h1M375 158h1M376 144h1M376 146h1M376 149h1M376 150h1M376 152h1M376 153h1M376 155h1M377 129h1M377 146h1M377 151h1M377 153h1M377 155h1M378 147h1M378 149h1M378 153h1M378 154h1M378 155h1M379 134h1M379 139h1M379 146h1M379 150h1M379 152h1M379 153h1M380 151h1M380 152h1M380 153h1M380 154h1M381 145h1M381 150h1M381 151h1M382 148h1M382 152h1M383 152h1M385 150h1M386 139h1M386 142h1M386 146h1M388 131h1M388 137h1M389 141h1M391 128h1M392 144h1"/><path stroke="#2e2ebc" d="M368 207h1M372 200h1M376 212h1M377 192h1M378 188h1M378 189h1M379 194h1M380 195h1M381 183h1M381 184h1M381 185h1M381 189h1M381 191h1M382 184h1M382 191h1M383 182h1M383 183h1M383 189h1M383 192h1M384 179h1M384 182h1M384 200h1M385 181h1M385 182h1M385 186h1M385 189h1M385 196h1M385 202h1M386 174h1M386 175h1M386 177h1M386 185h1M386 191h1M386 193h1M387 174h1M387 176h1M387 177h1M387 183h1M387 187h1M387 189h1M387 190h1M387 197h1M388 176h1M388 177h1M388 182h1M388 185h1M388 187h1M388 189h1M388 190h1M388 196h1M388 198h1M389 171h1M389 174h1M389 175h1M389 177h1M389 180h1M389 182h1M389 187h1M389 189h1M389 190h1M389 191h1M389 199h1M390 170h1M390 181h1M390 185h1M390 193h1M390 194h1M391 168h1M391 170h1M391 173h1M391 180h1M391 182h1M391 190h1M391 192h1M391 204h1M392 166h1M392 171h1M392 173h1M392 177h1M392 179h1M392 182h1M392 183h1M392 186h1M392 187h1M392 189h1M392 194h1M392 209h1M393 165h1M393 168h1M393 170h1M393 171h1M393 176h1M393 180h1M393 185h1M393 187h1M393 189h1M393 200h1M394 161h1M394 162h1M394 165h1M394 166h1M394 170h1M394 171h1M394 172h1M394 181h1M394 182h1M394 183h1M394 184h1M394 185h1M394 186h1M394 191h1M394 192h1M394 193h1M395 160h1M395 162h1M395 165h1M395 168h1M395 172h1M395 175h1M395 180h1M395 182h1M395 184h1M395 185h1M395 186h1M395 187h1M395 189h1M395 191h1M395 192h1M395 193h1M395 194h1M395 197h1M395 200h1M396 159h1M396 161h1M396 164h1M396 172h1M396 174h1M396 178h1M396 179h1M396 180h1M396 181h1M396 183h1M396 184h1M396 188h1M396 189h1M396 191h1M396 192h1M396 193h1M396 194h1M396 206h1M397 170h1M397 171h1M397 173h1M397 176h1M397 177h1M397 178h1M397 179h1M397 180h1M397 184h1M397 185h1M397 188h1M397 189h1M397 190h1M397 197h1M397 207h1M398 167h1M398 175h1M398 177h1M398 180h1M398 182h1M398 183h1M398 184h1M398 186h1M398 190h1M398 193h1M398 197h1M398 200h1M399 155h1M399 166h1M399 167h1M399 170h1M399 175h1M399 176h1M399 180h1M399 181h1M399 187h1M399 188h1M399 189h1M399 195h1M399 196h1M399 203h1M400 163h1M400 165h1M400 171h1M400 174h1M400 175h1M400 176h1M400 177h1M400 179h1M400 180h1M400 181h1M400 183h1M400 190h1M400 191h1M400 192h1M400 194h1M400 195h1M401 151h1M401 166h1M401 171h1M401 172h1M401 174h1M401 175h1M401 178h1M401 179h1M401 182h1M401 183h1M401 185h1M401 187h1M401 188h1M401 190h1M401 193h1M401 197h1M401 198h1M401 202h1M402 152h1M402 155h1M402 156h1M402 160h1M402 164h1M402 166h1M402 168h1M402 171h1M402 175h1M402 176h1M402 181h1M402 184h1M402 185h1M402 188h1M402 189h1M402 192h1M403 157h1M403 171h1M403 174h1M403 179h1M403 182h1M403 185h1M403 186h1M403 188h1M403 189h1M403 190h1M403 191h1M403 193h1M403 194h1M404 163h1M404 166h1M404 168h1M404 171h1M404 175h1M404 177h1M404 178h1M404 179h1M404 180h1M404 181h1M404 187h1M404 189h1M404 190h1M404 193h1M404 194h1M404 195h1M404 200h1M404 207h1M405 157h1M405 166h1M405 173h1M405 176h1M405 182h1M405 184h1M405 187h1M405 188h1M405 189h1M405 191h1M406 145h1M406 169h1M406 170h1M406 174h1M406 175h1M406 176h1M406 180h1M406 182h1M406 183h1M406 184h1M406 185h1M406 187h1M406 188h1M406 189h1M406 191h1M406 192h1M406 194h1M407 159h1M407 160h1M407 172h1M407 174h1M407 175h1M407 177h1M407 180h1M407 184h1M407 189h1M407 190h1M407 192h1M407 194h1M407 195h1M407 198h1M408 155h1M408 180h1M408 181h1M408 183h1M408 186h1M408 188h1M408 190h1M408 191h1M408 194h1M409 171h1M409 173h1M409 175h1M409 180h1M409 183h1M409 186h1M409 187h1M409 188h1M409 190h1M409 194h1M409 195h1M409 199h1M410 157h1M410 166h1M410 168h1M410 174h1M410 176h1M410 177h1M410 178h1M410 179h1M410 182h1M410 183h1M410 187h1M410 188h1M410 189h1M410 190h1M410 191h1M410 194h1M410 196h1M411 162h1M411 171h1M411 183h1M411 184h1M411 186h1M411 187h1M411 188h1M411 191h1M411 192h1M411 193h1M411 199h1M412 174h1M412 178h1M412 179h1M412 181h1M412 187h1M412 188h1M412 189h1M412 194h1M412 196h1M412 197h1M412 201h1M413 164h1M413 169h1M413 178h1M413 179h1M413 180h1M413 181h1M413 182h1M413 184h1M413 185h1M413 187h1M413 188h1M413 191h1M413 192h1M413 193h1M413 198h1M414 191h1M414 193h1M414 196h1M414 197h1M415 169h1M415 174h1M415 178h1M415 179h1M415 180h1M415 182h1M415 187h1M415 190h1M415 192h1M415 194h1M415 207h1M416 178h1M416 179h1M416 180h1M416 182h1M416 184h1M416 188h1M416 190h1M416 191h1M416 193h1M416 194h1M417 172h1M417 174h1M417 181h1M417 184h1M417 185h1M417 192h1M417 194h1M417 202h1M418 174h1M418 175h1M418 176h1M418 183h1M418 188h1M419 176h1M419 182h1M419 184h1M419 187h1M419 193h1M419 194h1M419 199h1M420 179h1M420 180h1M420 184h1M420 194h1M420 208h1M421 176h1M421 190h1M421 203h1M422 170h1M422 172h1M422 173h1M422 184h1M422 187h1M422 188h1M422 189h1M422 193h1M423 167h1M423 170h1M423 171h1M423 179h1M423 188h1M423 189h1M423 191h1M424 174h1M424 175h1M424 180h1M424 187h1M424 194h1M424 197h1M425 187h1M426 183h1M426 188h1M427 189h1M427 196h1M427 200h1M429 183h1M430 183h1M430 185h1M431 180h1M432 195h1M433 182h1M433 185h1M433 196h1M435 180h1M435 191h1M436 196h1M438 185h1M445 193h1M447 192h1"/></g><g stroke-width="1" transform="translate(0,0.5)"><path stroke="#ff0000" d="M66 437h1M67 431h1M67 435h1M67 437h1M68 424h1M68 438h1M69 417h1M69 438h1M70 429h1M70 430h1M70 431h1M70 432h1M70 433h1M71 419h1M71 428h1M71 431h1M71 436h1M72 420h1M72 421h1M72 426h1M72 429h1M72 430h1M72 437h1M73 421h1M73 424h1M73 426h1M73 427h1M73 429h1M73 431h1M73 432h1M73 437h1M73 438h1M73 443h1M74 417h1M74 422h1M74 423h1M74 428h1M74 431h1M74 433h1M75 413h1M75 418h1M75 424h1M75 425h1M75 426h1M75 428h1M75 430h1M75 432h1M75 434h1M76 414h1M76 423h1M76 425h1M76 427h1M76 428h1M76 430h1M76 432h1M76 433h1M76 434h1M76 438h1M77 414h1M77 422h1M77 423h1M77 424h1M77 425h1M77 426h1M77 427h1M77 428h1M77 429h1M77 430h1M77 432h1M77 433h1M77 434h1M77 436h1M77 438h1M77 440h1M78 410h1M78 415h1M78 418h1M78 419h1M78 420h1M78 421h1M78 422h1M78 425h1M78 426h1M78 427h1M78 428h1M78 429h1M78 430h1M78 431h1M78 432h1M78 433h1M78 438h1M79 413h1M79 415h1M79 417h1M79 418h1M79 419h1M79 420h1M79 421h1M79 422h1M79 423h1M79 424h1M79 426h1M79 427h1M79 428h1M79 429h1M79 430h1M79 432h1M79 433h1M79 434h1M79 438h1M80 411h1M80 413h1M80 414h1M80 415h1M80 416h1M80 417h1M80 418h1M80 419h1M80 420h1M80 421h1M80 422h1M80 423h1M80 424h1M80 425h1M80 426h1M80 427h1M80 428h1M80 429h1M80 430h1M80 432h1M80 433h1M80 440h1M81 408h1M81 415h1M81 416h1M81 417h1M81 418h1M81 419h1M81 420h1M81 421h1M81 422h1M81 423h1M81 424h1M81 425h1M81 426h1M81 427h1M81 428h1M81 429h1M81 430h1M81 431h1M81 432h1M81 433h1M81 434h1M81 435h1M82 411h1M82 414h1M82 415h1M82 416h1M82 417h1M82 418h1M82 419h1M82 420h1M82 421h1M82 422h1M82 423h1M82 424h1M82 425h1M82 426h1M82 427h1M82 428h1M82 430h1M82 431h1M82 433h1M82 434h1M82 435h1M82 439h1M83 409h1M83 410h1M83 411h1M83 414h1M83 415h1M83 416h1M83 417h1M83 418h1M83 419h1M83 420h1M83 421h1M83 422h1M83 423h1M83 424h1M83 425h1M83 426h1M83 427h1M83 428h1M83 429h1M83 430h1M83 431h1M83 433h1M83 435h1M83 437h1M84 409h1M84 411h1M84 412h1M84 413h1M84 414h1M84 415h1M84 416h1M84 417h1M84 418h1M84 419h1M84 420h1M84 421h1M84 422h1M84 423h1M84 424h1M84 425h1M84 426h1M84 427h1M84 428h1M84 429h1M84 431h1M84 432h1M84 433h1M84 435h1M85 407h1M85 411h1M85 412h1M85 413h1M85 414h1M85 415h1M85 416h1M85 417h1M85 418h1M85 419h1M85 420h1M85 421h1M85 422h1M85 423h1M85 424h1M85 425h1M85 426h1M85 427h1M85 428h1M85 429h1M85 430h1M85 431h1M85 432h1M85 434h1M85 435h1M85 436h1M85 437h1M86 408h1M86 409h1M86 410h1M86 411h1M86 414h1M86 415h1M86 416h1M86 417h1M86 418h1M86 419h1M86 420h1M86 421h1M86 422h1M86 423h1M86 424h1M86 425h1M86 426h1M86 427h1M86 428h1M86 429h1M86 431h1M86 432h1M86 433h1M86 434h1M86 435h1M87 406h1M87 408h1M87 409h1M87 410h1M87 411h1M87 412h1M87 413h1M87 414h1M87 415h1M87 416h1M87 417h1M87 419h1M87 420h1M87 421h1M87 422h1M87 423h1M87 424h1M87 425h1M87 426h1M87 427h1M87 428h1M87 429h1M87 430h1M87 432h1M87 434h1M87 436h1M88 408h1M88 409h1M88 410h1M88 411h1M88 412h1M88 413h1M88 414h1M88 415h1M88 416h1M88 417h1M88 418h1M88 419h1M88 420h1M88 421h1M88 422h1M88 423h1M88 424h1M88 425h1M88 426h1M88 427h1M88 428h1M88 429h1M88 431h1M88 432h1M88 439h1M89 405h1M89 406h1M89 408h1M89 409h1M89 410h1M89 411h1M89 412h1M89 414h1M89 415h1M89 416h1M89 417h1M89 418h1M89 419h1M89 420h1M89 421h1M89 422h1M89 423h1M89 424h1M89 425h1M89 426h1M89 427h1M89 428h1M89 429h1M89 430h1M89 432h1M90 404h1M90 406h1M90 407h1M90 409h1M90 410h1M90 411h1M90 412h1M90 413h1M90 414h1M90 415h1M90 416h1M90 417h1M90 418h1M90 419h1M90 420h1M90 421h1M90 422h1M90 423h1M90 424h1M90 425h1M90 426h1M90 427h1M90 428h1M90 429h1M90 430h1M90 435h1M90 437h1M91 406h1M91 408h1M91 410h1M91 411h1M91 412h1M91 413h1M91 414h1M91 415h1M91 416h1M91 417h1M91 418h1M91 419h1M91 420h1M91 421h1M91 422h1M91 423h1M91 424h1M91 425h1M91 426h1M91 427h1M91 428h1M91 429h1M91 431h1M91 433h1M91 434h1M91 437h1M92 406h1M92 407h1M92 408h1M92 409h1M92 410h1M92 411h1M92 412h1M92 413h1M92 414h1M92 415h1M92 416h1M92 417h1M92 418h1M92 419h1M92 420h1M92 421h1M92 422h1M92 423h1M92 424h1M92 425h1M92 426h1M92 427h1M92 428h1M92 429h1M92 430h1M92 431h1M93 403h1M93 406h1M93 407h1M93 408h1M93 409h1M93 410h1M93 411h1M93 412h1M93 413h1M93 414h1M93 415h1M93 416h1M93 417h1M93 418h1M93 419h1M93 420h1M93 421h1M93 422h1M93 423h1M93 424h1M93 425h1M93 426h1M93 427h1M93 428h1M93 431h1M93 432h1M94 403h1M94 405h1M94 406h1M94 407h1M94 408h1M94 409h1M94 410h1M94 411h1M94 412h1M94 413h1M94 414h1M94 415h1M94 416h1M94 417h1M94 418h1M94 419h1M94 420h1M94 421h1M94 422h1M94 423h1M94 424h1M94 425h1M94 427h1M94 430h1M95 403h1M95 404h1M95 405h1M95 406h1M95 407h1M95 408h1M95 409h1M95 410h1M95 411h1M95 412h1M95 413h1M95 414h1M95 415h1M95 416h1M95 417h1M95 418h1M95 419h1M95 420h1M95 421h1M95 422h1M95 423h1M95 424h1M95 425h1M95 426h1M95 427h1M95 428h1M95 430h1M95 432h1M96 401h1M96 402h1M96 403h1M96 405h1M96 406h1M96 407h1M96 408h1M96 409h1M96 410h1M96 411h1M96 412h1M96 413h1M96 414h1M96 415h1M96 416h1M96 417h1M96 418h1M96 419h1M96 420h1M96 421h1M96 422h1M96 423h1M96 424h1M96 425h1M96 429h1M97 401h1M97 404h1M97 405h1M97 406h1M97 407h1M97 408h1M97 409h1M97 410h1M97 411h1M97 412h1M97 413h1M97 414h1M97 415h1M97 416h1M97 417h1M97 418h1M97 419h1M97 420h1M97 421h1M97 422h1M97 423h1M97 424h1M97 427h1M97 431h1M97 432h1M98 402h1M98 403h1M98 404h1M98 405h1M98 406h1M98 407h1M98 408h1M98 409h1M98 410h1M98 411h1M98 412h1M98 413h1M98 414h1M98 415h1M98 416h1M98 417h1M98 418h1M98 419h1M98 420h1M98 421h1M98 422h1M98 423h1M98 426h1M98 432h1M99 401h1M99 402h1M99 405h1M99 406h1M99 407h1M99 408h1M99 409h1M99 410h1M99 411h1M99 412h1M99 413h1M99 414h1M99 415h1M99 416h1M99 417h1M99 418h1M99 419h1M99 420h1M99 421h1M99 422h1M99 424h1M99 425h1M99 426h1M99 428h1M99 430h1M100 402h1M100 403h1M100 404h1M100 405h1M100 406h1M100 407h1M100 408h1M100 409h1M100 410h1M100 411h1M100 412h1M100 413h1M100 414h1M100 415h1M100 416h1M100 417h1M100 418h1M100 419h1M100 420h1M100 421h1M100 422h1M100 423h1M100 425h1M100 426h1M101 399h1M101 402h1M101 403h1M101 404h1M101 405h1M101 407h1M101 408h1M101 409h1M101 410h1M101 411h1M101 412h1M101 413h1M101 414h1M101 415h1M101 416h1M101 417h1M101 418h1M101 419h1M101 420h1M101 421h1M101 422h1M101 423h1M101 425h1M101 428h1M101 433h1M102 401h1M102 405h1M102 406h1M102 407h1M102 408h1M102 409h1M102 410h1M102 411h1M102 412h1M102 413h1M102 414h1M102 415h1M102 416h1M102 418h1M102 419h1M102 420h1M102 421h1M102 423h1M102 425h1M103 399h1M103 400h1M103 401h1M103 402h1M103 403h1M103 404h1M103 405h1M103 406h1M103 407h1M103 408h1M103 409h1M103 410h1M103 411h1M103 412h1M103 413h1M103 414h1M103 415h1M103 416h1M103 417h1M103 419h1M103 420h1M103 421h1M103 422h1M104 399h1M104 401h1M104 402h1M104 404h1M104 405h1M104 406h1M104 407h1M104 408h1M104 409h1M104 410h1M104 411h1M104 412h1M104 413h1M104 414h1M104 415h1M104 416h1M104 417h1M104 418h1M104 419h1M104 420h1M105 398h1M105 401h1M105 403h1M105 404h1M105 405h1M105 406h1M105 407h1M105 408h1M105 409h1M105 410h1M105 411h1M105 413h1M105 415h1M105 416h1M105 417h1M105 418h1M105 419h1M105 424h1M106 396h1M106 398h1M106 399h1M106 400h1M106 401h1M106 402h1M106 404h1M106 405h1M106 406h1M106 407h1M106 408h1M106 409h1M106 410h1M106 411h1M106 413h1M106 414h1M106 415h1M106 417h1M106 420h1M106 421h1M107 399h1M107 401h1M107 402h1M107 403h1M107 404h1M107 405h1M107 406h1M107 407h1M107 408h1M107 409h1M107 410h1M107 411h1M107 412h1M107 413h1M107 414h1M107 415h1M107 417h1M107 418h1M107 419h1M107 420h1M107 422h1M107 424h1M108 395h1M108 397h1M108 398h1M108 399h1M108 400h1M108 401h1M108 403h1M108 405h1M108 406h1M108 407h1M108 408h1M108 410h1M108 411h1M108 412h1M108 414h1M108 415h1M108 416h1M108 421h1M109 397h1M109 400h1M109 401h1M109 403h1M109 404h1M109 406h1M109 407h1M109 408h1M109 410h1M109 411h1M109 412h1M109 413h1M109 415h1M109 417h1M109 419h1M110 395h1M110 396h1M110 401h1M110 402h1M110 403h1M110 405h1M110 406h1M110 407h1M110 408h1M110 409h1M110 412h1M110 413h1M110 419h1M111 395h1M111 399h1M111 400h1M111 403h1M111 404h1M111 405h1M111 407h1M111 408h1M111 410h1M111 412h1M111 413h1M111 415h1M112 397h1M112 399h1M112 401h1M112 402h1M112 403h1M112 404h1M112 405h1M112 412h1M112 413h1M112 415h1M113 395h1M113 397h1M113 398h1M113 402h1M113 404h1M113 406h1M113 412h1M113 416h1M114 396h1M114 398h1M114 399h1M114 403h1M114 405h1M115 392h1M115 394h1M115 398h1M115 399h1M115 400h1M115 403h1M115 407h1M115 412h1M116 394h1M116 398h1M117 392h1M117 393h1M117 397h1M117 399h1M117 400h1M117 408h1M117 411h1M118 392h1M118 393h1M118 394h1M118 397h1M118 398h1M118 402h1M118 406h1M118 407h1M118 408h1M119 396h1M119 397h1M119 399h1M119 400h1M120 391h1M120 392h1M120 396h1M120 399h1M120 401h1M120 406h1M121 397h1M121 404h1M122 390h1M122 395h1M122 397h1M122 404h1M123 390h1M123 391h1M123 393h1M123 394h1M123 398h1M124 389h1M124 391h1M124 397h1M124 399h1M124 400h1M126 388h1M127 389h1M127 394h1M127 395h1M128 389h1M128 393h1M128 394h1M129 391h1M129 393h1M130 387h1M130 393h1M131 388h1M132 386h1M134 386h1M135 384h1"/><path stroke="#d800f8" d="M115 382h1M117 391h1M119 383h1M121 383h1M123 379h1M133 374h1"/><path stroke="#2e2ebc" d="M114 421h1M115 414h1M120 411h1M126 398h1M126 400h1M127 399h1M131 392h1M132 389h1M135 387h1M139 399h1M140 389h1M142 384h1M143 396h1"/></g><g stroke-width="1" transform="translate(0,0.5)"><path stroke="#ff0000" d="M333 423h1M333 424h1M333 426h1M333 428h1M333 429h1M333 430h1M333 431h1M334 419h1M334 420h1M334 422h1M334 423h1M334 424h1M334 426h1M334 427h1M334 428h1M334 432h1M334 433h1M335 418h1M335 419h1M335 420h1M335 421h1M335 422h1M335 423h1M335 425h1M335 426h1M335 428h1M335 429h1M335 430h1M335 431h1M335 434h1M335 437h1M336 417h1M336 418h1M336 421h1M336 423h1M336 425h1M336 426h1M336 427h1M336 429h1M336 432h1M336 433h1M336 438h1M337 417h1M337 418h1M337 419h1M337 420h1M337 421h1M337 422h1M337 423h1M337 424h1M337 425h1M337 427h1M337 428h1M337 429h1M337 434h1M337 435h1M337 436h1M338 416h1M338 417h1M338 418h1M338 420h1M338 421h1M338 422h1M338 423h1M338 424h1M338 425h1M338 427h1M338 428h1M338 429h1M338 431h1M338 434h1M338 435h1M338 437h1M339 417h1M339 418h1M339 419h1M339 420h1M339 421h1M339 422h1M339 423h1M339 424h1M339 425h1M339 426h1M339 427h1M339 428h1M339 429h1M339 433h1M339 434h1M340 415h1M340 416h1M340 417h1M340 418h1M340 419h1M340 420h1M340 421h1M340 422h1M340 423h1M340 424h1M340 425h1M340 426h1M340 427h1M340 428h1M340 429h1M340 430h1M340 432h1M340 433h1M340 434h1M340 435h1M340 436h1M340 440h1M341 415h1M341 416h1M341 417h1M341 418h1M341 419h1M341 420h1M341 421h1M341 422h1M341 423h1M341 424h1M341 425h1M341 426h1M341 427h1M341 428h1M341 429h1M341 430h1M341 431h1M341 432h1M341 433h1M341 434h1M341 435h1M341 436h1M341 437h1M341 440h1M342 414h1M342 415h1M342 416h1M342 417h1M342 418h1M342 419h1M342 420h1M342 421h1M342 422h1M342 423h1M342 424h1M342 425h1M342 426h1M342 427h1M342 428h1M342 429h1M342 430h1M342 433h1M342 434h1M342 437h1M342 440h1M343 413h1M343 414h1M343 415h1M343 416h1M343 417h1M343 418h1M343 419h1M343 420h1M343 421h1M343 422h1M343 423h1M343 424h1M343 425h1M343 426h1M343 427h1M343 428h1M343 429h1M343 430h1M343 431h1M343 432h1M343 434h1M343 435h1M343 437h1M344 413h1M344 414h1M344 415h1M344 416h1M344 417h1M344 418h1M344 419h1M344 420h1M344 421h1M344 422h1M344 423h1M344 424h1M344 425h1M344 426h1M344 427h1M344 428h1M344 429h1M344 430h1M344 431h1M344 433h1M344 434h1M344 437h1M344 441h1M345 413h1M345 414h1M345 415h1M345 416h1M345 417h1M345 418h1M345 419h1M345 420h1M345 421h1M345 422h1M345 423h1M345 424h1M345 425h1M345 426h1M345 427h1M345 428h1M345 429h1M345 430h1M345 431h1M345 432h1M345 433h1M345 435h1M345 436h1M346 412h1M346 413h1M346 414h1M346 415h1M346 416h1M346 417h1M346 418h1M346 419h1M346 420h1M346 421h1M346 422h1M346 423h1M346 424h1M346 425h1M346 426h1M346 427h1M346 428h1M346 429h1M346 432h1M346 433h1M346 434h1M346 446h1M347 412h1M347 413h1M347 414h1M347 415h1M347 416h1M347 417h1M347 418h1M347 419h1M347 420h1M347 421h1M347 422h1M347 423h1M347 424h1M347 425h1M347 426h1M347 427h1M347 428h1M347 429h1M347 430h1M347 431h1M347 432h1M347 433h1M347 434h1M347 438h1M348 412h1M348 413h1M348 414h1M348 415h1M348 416h1M348 417h1M348 418h1M348 419h1M348 421h1M348 422h1M348 423h1M348 424h1M348 425h1M348 426h1M348 427h1M348 428h1M348 429h1M348 431h1M348 432h1M348 434h1M348 435h1M348 436h1M349 411h1M349 412h1M349 413h1M349 414h1M349 415h1M349 416h1M349 417h1M349 418h1M349 419h1M349 420h1M349 421h1M349 422h1M349 423h1M349 424h1M349 425h1M349 426h1M349 427h1M349 428h1M349 429h1M349 430h1M349 431h1M349 432h1M350 410h1M350 411h1M350 412h1M350 413h1M350 414h1M350 415h1M350 416h1M350 417h1M350 418h1M350 419h1M350 420h1M350 421h1M350 422h1M350 423h1M350 424h1M350 425h1M350 426h1M350 427h1M350 428h1M350 429h1M350 430h1M350 431h1M350 432h1M350 433h1M350 435h1M350 436h1M350 437h1M350 438h1M351 410h1M351 411h1M351 412h1M351 413h1M351 414h1M351 415h1M351 416h1M351 417h1M351 418h1M351 419h1M351 420h1M351 421h1M351 422h1M351 423h1M351 424h1M351 425h1M351 426h1M351 427h1M351 428h1M351 430h1M351 431h1M351 433h1M351 435h1M351 437h1M351 439h1M352 410h1M352 411h1M352 412h1M352 413h1M352 414h1M352 415h1M352 416h1M352 417h1M352 418h1M352 419h1M352 420h1M352 421h1M352 422h1M352 423h1M352 424h1M352 425h1M352 426h1M352 427h1M352 428h1M352 429h1M352 430h1M352 434h1M352 438h1M352 439h1M353 409h1M353 410h1M353 411h1M353 412h1M353 413h1M353 414h1M353 415h1M353 416h1M353 417h1M353 418h1M353 419h1M353 420h1M353 421h1M353 422h1M353 423h1M353 424h1M353 425h1M353 426h1M353 427h1M353 428h1M353 429h1M353 430h1M353 431h1M353 432h1M353 433h1M353 434h1M353 436h1M353 437h1M354 409h1M354 410h1M354 411h1M354 412h1M354 413h1M354 414h1M354 415h1M354 416h1M354 417h1M354 418h1M354 419h1M354 420h1M354 421h1M354 422h1M354 423h1M354 424h1M354 425h1M354 426h1M354 427h1M354 428h1M354 429h1M354 430h1M354 432h1M354 433h1M354 434h1M354 439h1M355 408h1M355 409h1M355 410h1M355 411h1M355 412h1M355 413h1M355 414h1M355 415h1M355 416h1M355 417h1M355 418h1M355 419h1M355 420h1M355 421h1M355 422h1M355 423h1M355 424h1M355 425h1M355 426h1M355 427h1M355 428h1M355 429h1M355 430h1M355 432h1M355 434h1M356 408h1M356 409h1M356 410h1M356 411h1M356 412h1M356 413h1M356 414h1M356 415h1M356 416h1M356 417h1M356 418h1M356 419h1M356 420h1M356 421h1M356 422h1M356 423h1M356 424h1M356 425h1M356 426h1M356 428h1M356 429h1M356 430h1M356 431h1M356 432h1M356 436h1M357 407h1M357 408h1M357 409h1M357 410h1M357 411h1M357 412h1M357 413h1M357 414h1M357 415h1M357 416h1M357 417h1M357 418h1M357 419h1M357 420h1M357 421h1M357 422h1M357 423h1M357 424h1M357 425h1M357 426h1M357 427h1M357 428h1M357 429h1M357 431h1M357 432h1M357 434h1M357 436h1M357 438h1M358 407h1M358 409h1M358 410h1M358 411h1M358 412h1M358 413h1M358 414h1M358 415h1M358 416h1M358 417h1M358 419h1M358 420h1M358 421h1M358 422h1M358 423h1M358 424h1M358 425h1M358 426h1M358 428h1M358 429h1M358 430h1M358 434h1M358 437h1M359 406h1M359 407h1M359 408h1M359 409h1M359 410h1M359 411h1M359 412h1M359 413h1M359 414h1M359 415h1M359 416h1M359 417h1M359 418h1M359 419h1M359 420h1M359 421h1M359 422h1M359 423h1M359 424h1M359 425h1M359 426h1M359 428h1M359 429h1M359 430h1M359 431h1M359 432h1M360 405h1M360 406h1M360 407h1M360 408h1M360 409h1M360 410h1M360 411h1M360 412h1M360 413h1M360 414h1M360 415h1M360 416h1M360 417h1M360 418h1M360 419h1M360 420h1M360 421h1M360 422h1M360 424h1M360 425h1M360 426h1M360 427h1M360 428h1M360 429h1M360 431h1M360 433h1M361 405h1M361 406h1M361 407h1M361 408h1M361 409h1M361 410h1M361 411h1M361 412h1M361 413h1M361 414h1M361 415h1M361 416h1M361 417h1M361 418h1M361 419h1M361 420h1M361 421h1M361 422h1M361 423h1M361 424h1M361 428h1M361 429h1M361 436h1M362 405h1M362 406h1M362 407h1M362 408h1M362 409h1M362 410h1M362 411h1M362 412h1M362 413h1M362 414h1M362 415h1M362 416h1M362 417h1M362 418h1M362 419h1M362 420h1M362 421h1M362 422h1M362 423h1M362 425h1M362 427h1M362 429h1M362 430h1M362 431h1M362 432h1M362 435h1M363 404h1M363 405h1M363 406h1M363 407h1M363 408h1M363 409h1M363 410h1M363 411h1M363 412h1M363 413h1M363 414h1M363 415h1M363 416h1M363 417h1M363 418h1M363 419h1M363 421h1M363 422h1M363 423h1M363 424h1M363 425h1M363 426h1M363 432h1M363 437h1M364 406h1M364 407h1M364 408h1M364 409h1M364 410h1M364 411h1M364 412h1M364 413h1M364 414h1M364 415h1M364 416h1M364 417h1M364 419h1M364 420h1M364 421h1M364 422h1M364 423h1M364 425h1M364 427h1M364 429h1M365 404h1M365 405h1M365 406h1M365 407h1M365 408h1M365 409h1M365 410h1M365 411h1M365 412h1M365 413h1M365 414h1M365 415h1M365 416h1M365 417h1M365 418h1M365 419h1M365 420h1M365 421h1M365 422h1M365 423h1M365 424h1M365 428h1M365 429h1M365 430h1M365 434h1M366 404h1M366 405h1M366 406h1M366 407h1M366 408h1M366 409h1M366 410h1M366 412h1M366 413h1M366 414h1M366 415h1M366 416h1M366 417h1M366 418h1M366 419h1M366 420h1M366 421h1M366 422h1M366 423h1M366 424h1M366 425h1M366 426h1M366 428h1M366 429h1M366 430h1M366 432h1M367 404h1M367 405h1M367 406h1M367 407h1M367 408h1M367 409h1M367 410h1M367 411h1M367 412h1M367 413h1M367 414h1M367 415h1M367 416h1M367 417h1M367 418h1M367 419h1M367 420h1M367 421h1M367 423h1M367 424h1M367 426h1M367 429h1M367 430h1M367 431h1M367 432h1M367 433h1M368 402h1M368 403h1M368 404h1M368 405h1M368 406h1M368 407h1M368 408h1M368 409h1M368 410h1M368 411h1M368 412h1M368 413h1M368 414h1M368 415h1M368 416h1M368 417h1M368 418h1M368 420h1M368 421h1M368 424h1M368 425h1M368 426h1M368 428h1M368 430h1M368 432h1M369 402h1M369 403h1M369 404h1M369 405h1M369 406h1M369 407h1M369 409h1M369 410h1M369 411h1M369 412h1M369 413h1M369 414h1M369 415h1M369 416h1M369 418h1M369 419h1M369 420h1M369 423h1M369 424h1M369 425h1M369 426h1M369 427h1M369 428h1M369 429h1M369 431h1M370 400h1M370 401h1M370 403h1M370 404h1M370 405h1M370 406h1M370 407h1M370 408h1M370 410h1M370 411h1M370 412h1M370 413h1M370 415h1M370 417h1M370 418h1M370 419h1M370 420h1M370 421h1M370 423h1M370 426h1M370 429h1M370 433h1M371 401h1M371 402h1M371 403h1M371 404h1M371 406h1M371 407h1M371 408h1M371 409h1M371 410h1M371 411h1M371 412h1M371 413h1M371 416h1M371 418h1M371 419h1M371 420h1M371 423h1M371 427h1M371 428h1M372 401h1M372 402h1M372 404h1M372 406h1M372 407h1M372 408h1M372 409h1M372 410h1M372 411h1M372 412h1M372 414h1M372 416h1M372 417h1M372 419h1M372 424h1M372 427h1M372 429h1M373 399h1M373 400h1M373 402h1M373 403h1M373 407h1M373 408h1M373 410h1M373 411h1M373 412h1M373 413h1M373 414h1M373 416h1M373 417h1M373 418h1M373 419h1M373 420h1M374 400h1M374 401h1M374 402h1M374 405h1M374 406h1M374 407h1M374 408h1M374 409h1M374 410h1M374 411h1M374 415h1M374 416h1M374 418h1M374 420h1M374 424h1M375 399h1M375 400h1M375 401h1M375 403h1M375 405h1M375 407h1M375 408h1M375 410h1M375 411h1M375 412h1M375 413h1M375 414h1M375 416h1M375 417h1M375 419h1M375 420h1M375 421h1M375 426h1M376 399h1M376 400h1M376 402h1M376 403h1M376 404h1M376 407h1M376 409h1M376 410h1M376 411h1M376 412h1M376 416h1M376 417h1M376 418h1M376 419h1M376 420h1M376 421h1M376 422h1M376 424h1M377 398h1M377 399h1M377 404h1M377 409h1M377 414h1M377 416h1M377 419h1M377 421h1M377 423h1M377 424h1M378 398h1M378 399h1M378 400h1M378 403h1M378 406h1M378 408h1M378 409h1M378 410h1M378 413h1M378 415h1M378 416h1M378 417h1M378 418h1M378 420h1M379 397h1M379 398h1M379 401h1M379 402h1M379 404h1M379 408h1M379 410h1M379 411h1M379 412h1M379 413h1M379 414h1M379 416h1M379 417h1M379 418h1M379 419h1M380 399h1M380 402h1M380 405h1M380 409h1M380 410h1M380 412h1M380 413h1M380 414h1M380 415h1M380 417h1M381 396h1M381 399h1M381 401h1M381 403h1M381 406h1M381 408h1M381 410h1M381 414h1M381 416h1M381 418h1M382 395h1M382 397h1M382 406h1M382 407h1M382 408h1M382 410h1M382 411h1M382 413h1M382 414h1M383 396h1M383 399h1M383 401h1M383 402h1M383 406h1M383 407h1M383 409h1M383 411h1M383 413h1M383 414h1M384 395h1M384 400h1M384 404h1M384 405h1M384 406h1M384 410h1M384 412h1M384 414h1M385 394h1M385 396h1M385 400h1M385 401h1M385 402h1M385 403h1M385 405h1M385 408h1M385 409h1M385 410h1M386 396h1M386 399h1M386 400h1M386 401h1M386 403h1M386 404h1M386 406h1M386 408h1M387 399h1M387 400h1M387 401h1M387 409h1M388 395h1M388 396h1M388 398h1M388 399h1M388 400h1M388 402h1M388 403h1M388 404h1M388 405h1M389 400h1M389 403h1M390 392h1M390 393h1M390 399h1M390 405h1M391 395h1M391 402h1M391 403h1M392 398h1M393 390h1M394 392h1M395 389h1M396 396h1"/><path stroke="#d800f8" d="M333 398h1M333 402h1M333 404h1M333 405h1M333 407h1M333 408h1M333 412h1M333 413h1M333 416h1M333 418h1M334 388h1M334 394h1M334 395h1M334 398h1M334 400h1M334 402h1M334 405h1M334 406h1M334 407h1M334 408h1M334 410h1M334 411h1M334 412h1M334 416h1M334 417h1M335 393h1M335 395h1M335 397h1M335 400h1M335 401h1M335 404h1M335 405h1M335 406h1M335 407h1M335 410h1M335 411h1M335 414h1M335 415h1M335 416h1M336 394h1M336 396h1M336 404h1M336 405h1M336 406h1M336 409h1M336 410h1M336 411h1M336 412h1M336 413h1M336 415h1M336 416h1M336 417h1M337 396h1M337 402h1M337 403h1M337 404h1M337 405h1M337 406h1M337 407h1M337 408h1M337 409h1M337 410h1M337 411h1M337 412h1M337 413h1M337 414h1M337 415h1M337 416h1M338 397h1M338 398h1M338 399h1M338 402h1M338 404h1M338 405h1M338 406h1M338 407h1M338 409h1M338 410h1M338 411h1M338 412h1M338 413h1M338 414h1M338 415h1M339 395h1M339 396h1M339 397h1M339 399h1M339 401h1M339 403h1M339 404h1M339 405h1M339 406h1M339 407h1M339 408h1M339 409h1M339 410h1M339 411h1M339 413h1M339 414h1M339 415h1M340 395h1M340 396h1M340 399h1M340 400h1M340 401h1M340 402h1M340 403h1M340 404h1M340 405h1M340 406h1M340 407h1M340 408h1M340 409h1M340 410h1M340 411h1M340 412h1M340 413h1M340 414h1M340 415h1M341 388h1M341 393h1M341 395h1M341 398h1M341 399h1M341 400h1M341 401h1M341 402h1M341 403h1M341 404h1M341 405h1M341 406h1M341 407h1M341 408h1M341 409h1M341 410h1M341 411h1M341 412h1M341 413h1M342 387h1M342 399h1M342 400h1M342 401h1M342 403h1M342 404h1M342 406h1M342 407h1M342 408h1M342 409h1M342 410h1M342 411h1M342 412h1M342 413h1M342 414h1M343 387h1M343 388h1M343 397h1M343 398h1M343 399h1M343 401h1M343 402h1M343 403h1M343 404h1M343 405h1M343 406h1M343 407h1M343 408h1M343 410h1M343 411h1M343 412h1M343 413h1M343 414h1M344 386h1M344 392h1M344 393h1M344 395h1M344 396h1M344 397h1M344 399h1M344 401h1M344 402h1M344 403h1M344 404h1M344 405h1M344 406h1M344 407h1M344 408h1M344 409h1M344 410h1M344 411h1M344 412h1M344 413h1M345 396h1M345 397h1M345 400h1M345 401h1M345 402h1M345 403h1M345 404h1M345 405h1M345 406h1M345 407h1M345 408h1M345 409h1M345 410h1M345 411h1M345 412h1M346 379h1M346 388h1M346 390h1M346 395h1M346 396h1M346 398h1M346 399h1M346 400h1M346 401h1M346 403h1M346 404h1M346 405h1M346 406h1M346 407h1M346 409h1M346 410h1M346 411h1M346 412h1M347 387h1M347 389h1M347 390h1M347 393h1M347 394h1M347 395h1M347 396h1M347 397h1M347 398h1M347 399h1M347 400h1M347 401h1M347 402h1M347 403h1M347 404h1M347 405h1M347 406h1M347 407h1M347 408h1M347 409h1M347 411h1M348 392h1M348 396h1M348 397h1M348 398h1M348 399h1M348 400h1M348 401h1M348 403h1M348 404h1M348 405h1M348 406h1M348 407h1M348 408h1M348 409h1M348 410h1M348 411h1M349 394h1M349 396h1M349 397h1M349 398h1M349 399h1M349 400h1M349 402h1M349 403h1M349 404h1M349 405h1M349 406h1M349 407h1M349 408h1M349 409h1M349 410h1M349 411h1M350 385h1M350 386h1M350 387h1M350 392h1M350 395h1M350 396h1M350 398h1M350 399h1M350 400h1M350 401h1M350 402h1M350 403h1M350 404h1M350 405h1M350 406h1M350 407h1M350 408h1M350 409h1M350 410h1M351 389h1M351 391h1M351 393h1M351 395h1M351 398h1M351 399h1M351 400h1M351 401h1M351 402h1M351 403h1M351 404h1M351 405h1M351 407h1M351 408h1M351 409h1M352 389h1M352 391h1M352 392h1M352 395h1M352 397h1M352 398h1M352 399h1M352 400h1M352 401h1M352 402h1M352 403h1M352 404h1M352 405h1M352 407h1M352 408h1M353 390h1M353 392h1M353 394h1M353 395h1M353 396h1M353 399h1M353 400h1M353 401h1M353 402h1M353 403h1M353 404h1M353 405h1M353 406h1M353 407h1M354 386h1M354 387h1M354 391h1M354 393h1M354 394h1M354 396h1M354 397h1M354 398h1M354 399h1M354 400h1M354 401h1M354 402h1M354 403h1M354 404h1M354 405h1M354 406h1M354 407h1M354 408h1M355 388h1M355 389h1M355 390h1M355 392h1M355 394h1M355 395h1M355 396h1M355 397h1M355 398h1M355 400h1M355 401h1M355 402h1M355 403h1M355 404h1M355 405h1M355 406h1M355 407h1M355 408h1M356 385h1M356 387h1M356 388h1M356 393h1M356 394h1M356 395h1M356 396h1M356 397h1M356 398h1M356 399h1M356 400h1M356 401h1M356 402h1M356 403h1M356 404h1M356 405h1M356 406h1M356 407h1M357 379h1M357 389h1M357 392h1M357 393h1M357 395h1M357 396h1M357 397h1M357 399h1M357 400h1M357 401h1M357 402h1M357 403h1M357 404h1M357 405h1M357 406h1M357 407h1M358 389h1M358 393h1M358 396h1M358 397h1M358 398h1M358 399h1M358 400h1M358 401h1M358 402h1M358 403h1M358 404h1M358 405h1M359 386h1M359 390h1M359 393h1M359 394h1M359 396h1M359 397h1M359 398h1M359 399h1M359 400h1M359 401h1M359 403h1M359 404h1M359 405h1M359 406h1M360 382h1M360 387h1M360 391h1M360 392h1M360 393h1M360 394h1M360 396h1M360 397h1M360 398h1M360 399h1M360 400h1M360 401h1M360 403h1M360 404h1M360 405h1M361 385h1M361 390h1M361 391h1M361 392h1M361 393h1M361 394h1M361 395h1M361 398h1M361 399h1M361 400h1M361 401h1M361 402h1M361 404h1M362 384h1M362 389h1M362 391h1M362 394h1M362 395h1M362 396h1M362 397h1M362 398h1M362 400h1M362 402h1M362 403h1M363 380h1M363 382h1M363 387h1M363 389h1M363 391h1M363 392h1M363 393h1M363 394h1M363 395h1M363 396h1M363 398h1M363 399h1M363 400h1M363 401h1M363 402h1M363 403h1M363 404h1M364 385h1M364 386h1M364 391h1M364 392h1M364 394h1M364 395h1M364 397h1M364 398h1M364 399h1M364 400h1M364 401h1M364 402h1M364 403h1M365 381h1M365 386h1M365 387h1M365 390h1M365 394h1M365 395h1M365 397h1M365 399h1M365 400h1M365 401h1M365 402h1M365 403h1M366 387h1M366 391h1M366 393h1M366 394h1M366 395h1M366 398h1M366 399h1M366 400h1M366 402h1M367 381h1M367 390h1M367 393h1M367 397h1M367 398h1M367 400h1M367 401h1M367 402h1M368 379h1M368 383h1M368 388h1M368 390h1M368 391h1M368 392h1M368 394h1M368 395h1M368 397h1M368 398h1M368 399h1M368 401h1M369 388h1M369 395h1M369 396h1M369 397h1M369 399h1M369 400h1M369 401h1M370 390h1M370 392h1M370 397h1M370 398h1M370 399h1M371 387h1M371 388h1M371 392h1M371 393h1M371 394h1M371 395h1M371 396h1M371 399h1M372 378h1M372 385h1M372 391h1M372 392h1M372 395h1M372 397h1M373 383h1M373 391h1M373 395h1M373 396h1M373 398h1M373 399h1M374 381h1M374 383h1M374 385h1M374 386h1M374 387h1M374 393h1M374 394h1M374 397h1M374 398h1M375 389h1M375 396h1M375 397h1M375 398h1M376 383h1M376 389h1M376 390h1M376 392h1M376 393h1M376 395h1M376 397h1M377 381h1M377 385h1M377 387h1M378 385h1M378 393h1M378 394h1M379 388h1M379 390h1M380 377h1M380 384h1M380 388h1M380 389h1M380 394h1M381 389h1M381 393h1M382 393h1M382 394h1M384 390h1M384 392h1M386 393h1M387 384h1M387 389h1M388 386h1M389 388h1M392 389h1M393 381h1"/><path stroke="#2e2ebc" d="M367 441h1M368 437h1M372 434h1M372 436h1M373 430h1M373 431h1M374 431h1M375 428h1M376 426h1M376 430h1M376 446h1M377 423h1M377 426h1M377 433h1M379 421h1M379 422h1M379 423h1M379 425h1M379 427h1M379 428h1M380 424h1M380 427h1M380 428h1M380 430h1M380 434h1M380 446h1M381 426h1M382 417h1M382 419h1M382 426h1M382 428h1M382 431h1M382 432h1M382 435h1M382 437h1M382 446h1M383 416h1M383 418h1M383 421h1M383 422h1M383 423h1M383 424h1M383 425h1M383 428h1M383 429h1M383 430h1M384 415h1M384 417h1M384 418h1M384 419h1M384 420h1M384 421h1M384 422h1M384 423h1M384 427h1M384 428h1M384 431h1M384 433h1M384 435h1M384 441h1M384 446h1M385 412h1M385 414h1M385 419h1M385 421h1M385 425h1M385 428h1M385 430h1M385 431h1M385 432h1M385 438h1M386 412h1M386 413h1M386 414h1M386 415h1M386 417h1M386 418h1M386 419h1M386 420h1M386 423h1M386 425h1M386 426h1M386 427h1M386 431h1M386 433h1M386 434h1M386 442h1M387 410h1M387 411h1M387 416h1M387 420h1M387 422h1M387 424h1M387 428h1M387 429h1M387 433h1M387 434h1M387 435h1M387 438h1M387 440h1M387 441h1M388 408h1M388 412h1M388 413h1M388 417h1M388 418h1M388 419h1M388 422h1M388 424h1M388 425h1M388 426h1M388 433h1M388 436h1M388 441h1M388 443h1M389 408h1M389 411h1M389 413h1M389 414h1M389 415h1M389 416h1M389 417h1M389 418h1M389 422h1M389 425h1M389 426h1M389 427h1M389 428h1M389 429h1M389 430h1M390 405h1M390 411h1M390 412h1M390 413h1M390 416h1M390 421h1M390 422h1M390 423h1M390 426h1M390 427h1M390 428h1M390 429h1M390 430h1M390 431h1M390 437h1M391 406h1M391 408h1M391 410h1M391 416h1M391 417h1M391 418h1M391 419h1M391 420h1M391 421h1M391 422h1M391 424h1M391 425h1M391 426h1M391 431h1M391 434h1M391 445h1M392 404h1M392 407h1M392 408h1M392 410h1M392 414h1M392 416h1M392 418h1M392 420h1M392 422h1M392 423h1M392 424h1M392 427h1M392 429h1M392 430h1M392 432h1M392 435h1M393 406h1M393 407h1M393 409h1M393 411h1M393 412h1M393 416h1M393 417h1M393 418h1M393 419h1M393 421h1M393 422h1M393 423h1M393 424h1M393 426h1M393 427h1M393 428h1M393 429h1M393 431h1M393 435h1M393 441h1M393 446h1M394 401h1M394 402h1M394 407h1M394 412h1M394 413h1M394 414h1M394 415h1M394 418h1M394 419h1M394 420h1M394 421h1M394 422h1M394 423h1M394 425h1M394 429h1M394 430h1M394 432h1M394 434h1M394 435h1M394 444h1M395 405h1M395 407h1M395 410h1M395 411h1M395 412h1M395 414h1M395 416h1M395 417h1M395 418h1M395 419h1M395 421h1M395 422h1M395 424h1M395 425h1M395 426h1M395 427h1M395 428h1M395 430h1M395 431h1M395 433h1M395 436h1M395 439h1M395 445h1M396 403h1M396 405h1M396 406h1M396 408h1M396 409h1M396 410h1M396 415h1M396 417h1M396 421h1M396 422h1M396 423h1M396 424h1M396 428h1M396 430h1M396 432h1M396 433h1M396 437h1M396 439h1M397 404h1M397 405h1M397 407h1M397 409h1M397 410h1M397 411h1M397 414h1M397 415h1M397 417h1M397 418h1M397 419h1M397 420h1M397 423h1M397 424h1M397 425h1M397 426h1M397 427h1M397 428h1M397 430h1M397 432h1M397 439h1M397 440h1M397 445h1M397 446h1M398 406h1M398 408h1M398 409h1M398 413h1M398 416h1M398 419h1M398 420h1M398 421h1M398 425h1M398 426h1M398 427h1M398 428h1M398 429h1M398 430h1M398 431h1M398 433h1M398 437h1M398 438h1M398 443h1M398 445h1M398 446h1M399 397h1M399 400h1M399 406h1M399 410h1M399 412h1M399 413h1M399 415h1M399 416h1M399 417h1M399 418h1M399 419h1M399 420h1M399 422h1M399 423h1M399 426h1M399 428h1M399 430h1M399 432h1M399 436h1M399 438h1M399 446h1M400 401h1M400 402h1M400 406h1M400 412h1M400 413h1M400 417h1M400 418h1M400 419h1M400 421h1M400 422h1M400 423h1M400 424h1M400 425h1M400 426h1M400 427h1M400 428h1M400 431h1M400 432h1M400 434h1M400 441h1M400 443h1M400 444h1M401 401h1M401 404h1M401 407h1M401 410h1M401 414h1M401 415h1M401 416h1M401 417h1M401 418h1M401 419h1M401 420h1M401 421h1M401 423h1M401 425h1M401 428h1M401 429h1M401 432h1M401 434h1M401 436h1M401 438h1M401 439h1M401 441h1M401 444h1M401 446h1M402 400h1M402 407h1M402 409h1M402 410h1M402 411h1M402 414h1M402 416h1M402 417h1M402 419h1M402 421h1M402 422h1M402 423h1M402 425h1M402 427h1M402 428h1M402 429h1M402 430h1M402 431h1M402 437h1M402 441h1M402 442h1M403 400h1M403 405h1M403 408h1M403 411h1M403 414h1M403 417h1M403 420h1M403 421h1M403 425h1M403 426h1M403 427h1M403 429h1M403 430h1M403 431h1M403 436h1M403 437h1M403 440h1M403 443h1M404 402h1M404 412h1M404 414h1M404 415h1M404 416h1M404 417h1M404 419h1M404 420h1M404 422h1M404 423h1M404 424h1M404 426h1M404 427h1M404 428h1M404 429h1M404 430h1M404 433h1M404 434h1M404 435h1M404 436h1M404 446h1M405 401h1M405 411h1M405 413h1M405 415h1M405 416h1M405 417h1M405 418h1M405 419h1M405 420h1M405 422h1M405 423h1M405 424h1M405 425h1M405 426h1M405 427h1M405 428h1M405 429h1M405 432h1M405 434h1M405 435h1M405 436h1M405 444h1M406 404h1M406 406h1M406 407h1M406 412h1M406 419h1M406 420h1M406 422h1M406 424h1M406 426h1M406 427h1M406 430h1M406 432h1M406 433h1M406 434h1M406 436h1M406 438h1M406 442h1M406 443h1M407 405h1M407 412h1M407 415h1M407 416h1M407 418h1M407 419h1M407 421h1M407 423h1M407 424h1M407 425h1M407 426h1M407 427h1M407 428h1M407 429h1M407 430h1M407 431h1M407 432h1M407 435h1M407 443h1M407 446h1M408 411h1M408 413h1M408 417h1M408 419h1M408 421h1M408 423h1M408 426h1M408 427h1M408 428h1M408 432h1M408 435h1M408 437h1M408 439h1M408 440h1M408 441h1M409 400h1M409 402h1M409 406h1M409 411h1M409 412h1M409 413h1M409 415h1M409 417h1M409 418h1M409 419h1M409 420h1M409 424h1M409 427h1M409 429h1M409 430h1M409 431h1M409 432h1M409 434h1M409 437h1M409 441h1M409 446h1M410 404h1M410 405h1M410 410h1M410 414h1M410 415h1M410 422h1M410 423h1M410 424h1M410 425h1M410 428h1M410 430h1M410 433h1M410 434h1M410 437h1M410 446h1M411 419h1M411 420h1M411 422h1M411 425h1M411 426h1M411 427h1M411 428h1M411 429h1M411 430h1M411 431h1M411 433h1M411 436h1M411 439h1M412 399h1M412 406h1M412 410h1M412 412h1M412 415h1M412 416h1M412 419h1M412 421h1M412 422h1M412 423h1M412 425h1M412 427h1M412 428h1M412 436h1M412 437h1M412 442h1M412 443h1M413 396h1M413 403h1M413 414h1M413 419h1M413 420h1M413 422h1M413 423h1M413 424h1M413 426h1M413 428h1M413 429h1M413 431h1M413 432h1M413 433h1M413 437h1M413 446h1M414 406h1M414 412h1M414 414h1M414 418h1M414 419h1M414 421h1M414 423h1M414 424h1M414 427h1M414 428h1M414 429h1M414 430h1M414 432h1M414 434h1M414 438h1M414 445h1M414 446h1M415 402h1M415 411h1M415 413h1M415 414h1M415 418h1M415 420h1M415 422h1M415 426h1M415 434h1M416 419h1M416 421h1M416 426h1M416 427h1M416 428h1M416 431h1M416 433h1M416 435h1M416 437h1M416 438h1M416 439h1M416 442h1M416 446h1M417 411h1M417 421h1M417 424h1M417 427h1M417 430h1M417 432h1M417 437h1M417 442h1M417 446h1M418 418h1M418 422h1M418 425h1M418 429h1M418 430h1M418 432h1M418 436h1M418 437h1M418 439h1M418 446h1M419 414h1M419 416h1M419 417h1M419 421h1M419 422h1M419 424h1M419 428h1M419 432h1M419 434h1M419 437h1M419 438h1M420 408h1M420 412h1M420 413h1M420 415h1M420 417h1M420 423h1M420 425h1M420 429h1M420 437h1M420 438h1M420 441h1M420 442h1M421 424h1M421 426h1M421 428h1M421 429h1M421 437h1M421 440h1M422 410h1M422 417h1M422 422h1M422 423h1M422 431h1M422 433h1M422 438h1M422 441h1M422 446h1M423 414h1M423 421h1M423 422h1M423 426h1M423 428h1M423 437h1M423 446h1M424 412h1M424 416h1M424 428h1M424 434h1M424 438h1M424 440h1M426 425h1M426 434h1M426 440h1M426 442h1M426 443h1M427 426h1M427 436h1M427 439h1M427 442h1M428 417h1M428 430h1M428 446h1M429 432h1M430 420h1M430 431h1M430 432h1M430 434h1M430 442h1M431 423h1M433 417h1M435 430h1M439 436h1M439 439h1M439 440h1"/></g><g stroke-width="1" transform="translate(0,0.5)"><path stroke="#ff0000" d="M65 671h1M65 672h1M65 676h1M66 670h1M66 671h1M66 676h1M67 667h1M67 670h1M67 671h1M67 672h1M67 674h1M68 668h1M68 669h1M68 671h1M68 675h1M68 680h1M69 666h1M69 667h1M69 668h1M69 670h1M69 673h1M69 679h1M69 684h1M70 665h1M70 666h1M70 668h1M70 669h1M70 671h1M70 672h1M70 673h1M70 674h1M70 675h1M70 680h1M71 666h1M71 667h1M71 670h1M71 683h1M72 665h1M72 666h1M72 667h1M72 668h1M72 669h1M72 670h1M72 674h1M72 676h1M73 661h1M73 662h1M73 663h1M73 664h1M73 666h1M73 668h1M73 669h1M73 670h1M73 672h1M73 676h1M73 679h1M73 682h1M74 661h1M74 662h1M74 663h1M74 664h1M74 665h1M74 666h1M74 668h1M74 669h1M74 671h1M74 672h1M74 673h1M74 674h1M74 681h1M75 660h1M75 661h1M75 662h1M75 663h1M75 664h1M75 665h1M75 666h1M75 667h1M75 668h1M75 669h1M75 672h1M75 673h1M75 677h1M75 680h1M76 659h1M76 660h1M76 661h1M76 662h1M76 663h1M76 664h1M76 665h1M76 667h1M76 668h1M76 669h1M76 670h1M76 672h1M76 673h1M76 680h1M77 658h1M77 659h1M77 660h1M77 661h1M77 662h1M77 663h1M77 664h1M77 665h1M77 668h1M77 670h1M77 671h1M77 672h1M78 657h1M78 658h1M78 659h1M78 660h1M78 661h1M78 662h1M78 663h1M78 664h1M78 665h1M78 666h1M78 667h1M78 668h1M78 669h1M78 670h1M78 671h1M78 675h1M78 676h1M79 657h1M79 658h1M79 659h1M79 660h1M79 661h1M79 662h1M79 663h1M79 664h1M79 665h1M79 666h1M79 667h1M79 668h1M79 669h1M79 671h1M79 672h1M79 673h1M79 677h1M80 655h1M80 656h1M80 657h1M80 658h1M80 659h1M80 660h1M80 661h1M80 662h1M80 663h1M80 664h1M80 665h1M80 666h1M80 667h1M80 668h1M80 669h1M80 670h1M80 671h1M80 674h1M80 675h1M81 654h1M81 655h1M81 656h1M81 657h1M81 658h1M81 659h1M81 660h1M81 662h1M81 663h1M81 664h1M81 665h1M81 666h1M81 667h1M81 668h1M81 669h1M81 670h1M81 671h1M81 673h1M81 678h1M82 654h1M82 655h1M82 656h1M82 657h1M82 658h1M82 659h1M82 660h1M82 661h1M82 662h1M82 663h1M82 664h1M82 665h1M82 666h1M82 667h1M82 668h1M82 669h1M82 671h1M82 672h1M82 673h1M83 654h1M83 655h1M83 656h1M83 657h1M83 658h1M83 659h1M83 660h1M83 661h1M83 662h1M83 663h1M83 664h1M83 665h1M83 666h1M83 667h1M83 668h1M83 671h1M83 672h1M83 673h1M83 675h1M84 652h1M84 653h1M84 654h1M84 655h1M84 656h1M84 657h1M84 658h1M84 659h1M84 660h1M84 661h1M84 662h1M84 663h1M84 664h1M84 665h1M84 666h1M84 667h1M84 668h1M84 669h1M84 670h1M84 673h1M84 675h1M84 678h1M84 679h1M85 651h1M85 652h1M85 653h1M85 654h1M85 655h1M85 656h1M85 657h1M85 658h1M85 659h1M85 660h1M85 661h1M85 662h1M85 663h1M85 664h1M85 665h1M85 666h1M85 667h1M85 668h1M85 670h1M85 671h1M85 672h1M85 675h1M86 651h1M86 652h1M86 653h1M86 654h1M86 655h1M86 656h1M86 657h1M86 658h1M86 659h1M86 660h1M86 661h1M86 662h1M86 663h1M86 664h1M86 665h1M86 666h1M86 667h1M86 668h1M86 669h1M86 671h1M87 649h1M87 650h1M87 651h1M87 652h1M87 653h1M87 654h1M87 655h1M87 656h1M87 657h1M87 658h1M87 659h1M87 660h1M87 661h1M87 662h1M87 663h1M87 664h1M87 665h1M87 666h1M87 667h1M87 668h1M87 671h1M87 672h1M87 673h1M87 674h1M87 675h1M87 681h1M87 684h1M88 649h1M88 650h1M88 651h1M88 652h1M88 653h1M88 654h1M88 655h1M88 656h1M88 657h1M88 658h1M88 659h1M88 660h1M88 661h1M88 662h1M88 663h1M88 664h1M88 665h1M88 667h1M88 668h1M88 669h1M88 670h1M88 672h1M88 684h1M89 648h1M89 649h1M89 650h1M89 651h1M89 652h1M89 653h1M89 654h1M89 655h1M89 656h1M89 657h1M89 658h1M89 659h1M89 660h1M89 661h1M89 662h1M89 663h1M89 664h1M89 665h1M89 666h1M89 667h1M89 669h1M89 671h1M89 677h1M89 679h1M90 647h1M90 648h1M90 649h1M90 650h1M90 651h1M90 652h1M90 653h1M90 654h1M90 655h1M90 656h1M90 657h1M90 658h1M90 659h1M90 660h1M90 661h1M90 662h1M90 663h1M90 664h1M90 665h1M90 666h1M90 667h1M90 668h1M90 669h1M90 673h1M90 680h1M91 646h1M91 647h1M91 648h1M91 649h1M91 650h1M91 651h1M91 652h1M91 653h1M91 654h1M91 655h1M91 656h1M91 657h1M91 658h1M91 659h1M91 660h1M91 661h1M91 662h1M91 663h1M91 664h1M91 665h1M91 666h1M91 667h1M91 668h1M91 673h1M92 645h1M92 646h1M92 647h1M92 648h1M92 649h1M92 650h1M92 651h1M92 652h1M92 653h1M92 654h1M92 655h1M92 656h1M92 657h1M92 658h1M92 659h1M92 660h1M92 661h1M92 662h1M92 663h1M92 664h1M92 665h1M92 666h1M92 668h1M93 645h1M93 646h1M93 647h1M93 648h1M93 649h1M93 650h1M93 651h1M93 652h1M93 653h1M93 654h1M93 655h1M93 656h1M93 657h1M93 658h1M93 659h1M93 660h1M93 661h1M93 662h1M93 663h1M93 664h1M93 665h1M93 666h1M93 667h1M93 668h1M93 669h1M93 670h1M94 643h1M94 644h1M94 645h1M94 646h1M94 647h1M94 648h1M94 649h1M94 650h1M94 651h1M94 652h1M94 653h1M94 654h1M94 655h1M94 656h1M94 657h1M94 658h1M94 659h1M94 660h1M94 661h1M94 662h1M94 664h1M94 668h1M95 643h1M95 644h1M95 645h1M95 646h1M95 647h1M95 648h1M95 649h1M95 650h1M95 651h1M95 652h1M95 653h1M95 654h1M95 655h1M95 656h1M95 657h1M95 658h1M95 659h1M95 660h1M95 661h1M95 662h1M95 663h1M95 664h1M95 673h1M96 642h1M96 643h1M96 644h1M96 645h1M96 646h1M96 647h1M96 648h1M96 649h1M96 650h1M96 651h1M96 652h1M96 653h1M96 654h1M96 655h1M96 656h1M96 657h1M96 658h1M96 659h1M96 660h1M96 661h1M96 662h1M96 663h1M96 664h1M96 666h1M97 642h1M97 643h1M97 644h1M97 645h1M97 646h1M97 647h1M97 648h1M97 649h1M97 650h1M97 651h1M97 652h1M97 653h1M97 654h1M97 655h1M97 656h1M97 657h1M97 658h1M97 659h1M97 660h1M97 663h1M97 665h1M97 666h1M97 667h1M98 640h1M98 641h1M98 642h1M98 643h1M98 644h1M98 645h1M98 646h1M98 647h1M98 648h1M98 649h1M98 650h1M98 651h1M98 652h1M98 653h1M98 654h1M98 655h1M98 656h1M98 657h1M98 658h1M98 659h1M98 661h1M98 662h1M98 663h1M98 666h1M98 668h1M99 639h1M99 640h1M99 641h1M99 642h1M99 643h1M99 644h1M99 645h1M99 646h1M99 647h1M99 648h1M99 649h1M99 650h1M99 651h1M99 652h1M99 653h1M99 654h1M99 655h1M99 656h1M99 657h1M99 658h1M99 659h1M99 660h1M99 662h1M99 663h1M99 665h1M99 667h1M100 639h1M100 640h1M100 641h1M100 642h1M100 643h1M100 644h1M100 645h1M100 646h1M100 647h1M100 648h1M100 649h1M100 650h1M100 651h1M100 652h1M100 653h1M100 654h1M100 655h1M100 656h1M100 657h1M100 658h1M100 659h1M100 660h1M100 661h1M100 666h1M100 667h1M101 638h1M101 639h1M101 640h1M101 641h1M101 642h1M101 643h1M101 644h1M101 645h1M101 646h1M101 647h1M101 648h1M101 649h1M101 650h1M101 651h1M101 652h1M101 653h1M101 654h1M101 655h1M101 658h1M101 659h1M101 660h1M101 661h1M101 663h1M101 665h1M102 637h1M102 638h1M102 639h1M102 640h1M102 641h1M102 642h1M102 643h1M102 644h1M102 645h1M102 646h1M102 647h1M102 648h1M102 649h1M102 650h1M102 651h1M102 652h1M102 653h1M102 654h1M102 655h1M102 656h1M102 658h1M102 659h1M102 660h1M102 661h1M102 662h1M102 664h1M103 637h1M103 639h1M103 640h1M103 641h1M103 642h1M103 643h1M103 644h1M103 645h1M103 646h1M103 647h1M103 648h1M103 649h1M103 650h1M103 651h1M103 652h1M103 653h1M103 654h1M103 656h1M103 657h1M104 636h1M104 637h1M104 638h1M104 639h1M104 640h1M104 641h1M104 642h1M104 643h1M104 644h1M104 645h1M104 646h1M104 647h1M104 648h1M104 649h1M104 650h1M104 652h1M104 653h1M104 654h1M104 655h1M104 657h1M104 660h1M104 661h1M104 662h1M105 635h1M105 636h1M105 637h1M105 638h1M105 639h1M105 640h1M105 641h1M105 642h1M105 643h1M105 644h1M105 645h1M105 646h1M105 647h1M105 648h1M105 649h1M105 650h1M105 652h1M105 653h1M105 654h1M105 655h1M105 656h1M105 659h1M105 660h1M106 634h1M106 635h1M106 636h1M106 637h1M106 638h1M106 639h1M106 640h1M106 641h1M106 642h1M106 643h1M106 644h1M106 645h1M106 646h1M106 647h1M106 648h1M106 649h1M106 650h1M106 652h1M106 653h1M106 654h1M106 655h1M107 634h1M107 635h1M107 636h1M107 637h1M107 638h1M107 639h1M107 640h1M107 641h1M107 642h1M107 643h1M107 644h1M107 645h1M107 646h1M107 648h1M107 649h1M107 650h1M107 651h1M107 654h1M107 657h1M107 658h1M108 632h1M108 633h1M108 635h1M108 636h1M108 637h1M108 638h1M108 639h1M108 640h1M108 641h1M108 642h1M108 643h1M108 644h1M108 645h1M108 646h1M108 647h1M108 648h1M108 649h1M108 650h1M108 651h1M108 654h1M109 632h1M109 633h1M109 634h1M109 635h1M109 636h1M109 637h1M109 638h1M109 639h1M109 640h1M109 641h1M109 642h1M109 643h1M109 645h1M109 646h1M109 650h1M109 652h1M110 631h1M110 632h1M110 633h1M110 634h1M110 635h1M110 636h1M110 637h1M110 638h1M110 639h1M110 640h1M110 641h1M110 642h1M110 643h1M110 644h1M110 645h1M110 646h1M110 648h1M110 650h1M110 652h1M111 630h1M111 631h1M111 632h1M111 633h1M111 634h1M111 635h1M111 636h1M111 637h1M111 638h1M111 639h1M111 640h1M111 641h1M111 642h1M111 644h1M111 645h1M111 646h1M111 651h1M112 631h1M112 632h1M112 633h1M112 634h1M112 635h1M112 636h1M112 637h1M112 638h1M112 639h1M112 640h1M112 641h1M112 642h1M112 643h1M112 644h1M112 647h1M112 648h1M112 649h1M112 650h1M112 651h1M113 629h1M113 630h1M113 631h1M113 632h1M113 634h1M113 635h1M113 636h1M113 637h1M113 638h1M113 639h1M113 640h1M113 642h1M113 643h1M113 644h1M113 645h1M113 646h1M113 647h1M113 648h1M114 628h1M114 629h1M114 630h1M114 631h1M114 632h1M114 633h1M114 634h1M114 635h1M114 636h1M114 637h1M114 638h1M114 640h1M114 642h1M114 643h1M114 644h1M114 646h1M114 647h1M115 627h1M115 628h1M115 629h1M115 631h1M115 632h1M115 633h1M115 634h1M115 636h1M115 637h1M115 638h1M115 639h1M115 640h1M115 641h1M115 642h1M115 644h1M116 627h1M116 630h1M116 631h1M116 632h1M116 633h1M116 634h1M116 635h1M116 636h1M116 637h1M116 638h1M116 641h1M116 642h1M116 643h1M116 644h1M116 645h1M117 626h1M117 629h1M117 630h1M117 631h1M117 632h1M117 633h1M117 634h1M117 636h1M117 637h1M117 638h1M117 639h1M117 640h1M117 641h1M117 642h1M117 643h1M118 625h1M118 626h1M118 627h1M118 628h1M118 629h1M118 630h1M118 631h1M118 632h1M118 633h1M118 635h1M118 636h1M118 637h1M118 638h1M118 639h1M118 640h1M119 624h1M119 627h1M119 628h1M119 629h1M119 630h1M119 631h1M119 632h1M119 633h1M119 634h1M119 635h1M119 636h1M119 640h1M120 623h1M120 625h1M120 629h1M120 630h1M120 631h1M120 633h1M120 634h1M120 635h1M120 638h1M121 623h1M121 624h1M121 626h1M121 627h1M121 628h1M121 629h1M121 630h1M121 631h1M121 632h1M121 633h1M121 634h1M121 635h1M121 636h1M121 637h1M122 621h1M122 622h1M122 623h1M122 626h1M122 627h1M122 628h1M122 629h1M122 630h1M122 631h1M122 632h1M122 633h1M122 634h1M122 636h1M123 621h1M123 622h1M123 623h1M123 625h1M123 628h1M123 629h1M123 632h1M123 634h1M124 620h1M124 622h1M124 623h1M124 625h1M124 626h1M124 628h1M124 630h1M124 632h1M125 619h1M125 621h1M125 625h1M125 626h1M125 627h1M125 628h1M125 631h1M126 619h1M126 620h1M126 621h1M126 622h1M126 624h1M126 626h1M126 628h1M127 618h1M127 620h1M127 621h1M127 622h1M127 623h1M127 625h1M127 626h1M127 627h1M127 628h1M128 620h1M128 622h1M128 623h1M128 625h1M128 626h1M128 627h1M129 621h1M129 623h1M130 617h1M130 624h1M131 616h1M131 618h1M131 621h1M131 622h1M133 619h1M133 620h1M135 615h1M135 616h1M136 615h1M137 615h1M138 612h1"/><path stroke="#d800f8" d="M72 655h1M73 654h1M78 651h1M78 654h1M79 647h1M79 653h1M80 652h1M80 654h1M83 648h1M84 649h1M84 650h1M84 651h1M85 648h1M86 649h1M87 645h1M89 647h1M91 643h1M97 641h1M101 630h1M102 629h1M102 637h1M103 630h1M104 626h1M104 632h1M105 631h1M107 632h1M108 628h1M109 631h1M110 622h1M110 626h1M114 617h1M121 618h1M133 611h1"/><path stroke="#2e2ebc" d="M113 650h1M113 660h1M116 651h1M120 640h1M122 637h1M125 633h1M126 638h1M128 634h1M131 629h1M131 630h1M132 626h1M132 638h1M137 624h1M138 618h1M138 619h1M139 615h1M140 619h1M141 616h1"/></g><g stroke-width="1" transform="translate(0,0.5)"><path stroke="#ff0000" d="M332 669h1M332 670h1M332 671h1M333 667h1M333 669h1M333 670h1M333 671h1M333 674h1M334 666h1M334 668h1M334 669h1M334 670h1M334 671h1M334 672h1M334 673h1M334 674h1M334 675h1M334 677h1M334 679h1M335 665h1M335 666h1M335 667h1M335 668h1M335 669h1M335 670h1M335 671h1M335 672h1M335 680h1M335 684h1M336 665h1M336 666h1M336 669h1M336 670h1M336 672h1M336 674h1M336 676h1M337 664h1M337 666h1M337 667h1M337 668h1M337 669h1M337 670h1M337 672h1M337 673h1M337 674h1M337 677h1M338 663h1M338 664h1M338 665h1M338 666h1M338 667h1M338 668h1M338 669h1M338 670h1M338 671h1M338 672h1M338 673h1M339 662h1M339 663h1M339 664h1M339 665h1M339 666h1M339 667h1M339 668h1M339 669h1M339 671h1M339 672h1M339 674h1M340 661h1M340 662h1M340 663h1M340 664h1M340 665h1M340 666h1M340 667h1M340 668h1M340 669h1M340 670h1M340 672h1M340 673h1M340 675h1M341 660h1M341 661h1M341 662h1M341 663h1M341 664h1M341 665h1M341 666h1M341 667h1M341 668h1M341 669h1M341 673h1M342 660h1M342 661h1M342 662h1M342 663h1M342 664h1M342 666h1M342 667h1M342 668h1M342 672h1M343 659h1M343 660h1M343 661h1M343 662h1M343 663h1M343 664h1M343 665h1M343 666h1M343 667h1M343 668h1M343 669h1M343 670h1M343 671h1M343 673h1M343 674h1M344 658h1M344 659h1M344 660h1M344 661h1M344 662h1M344 663h1M344 664h1M344 665h1M344 666h1M344 667h1M344 668h1M344 669h1M344 671h1M344 673h1M345 657h1M345 658h1M345 659h1M345 660h1M345 661h1M345 662h1M345 663h1M345 664h1M345 665h1M345 666h1M345 668h1M345 669h1M345 670h1M345 673h1M346 656h1M346 657h1M346 658h1M346 659h1M346 660h1M346 661h1M346 662h1M346 663h1M346 664h1M346 666h1M346 667h1M346 669h1M346 672h1M346 676h1M346 680h1M347 656h1M347 657h1M347 658h1M347 659h1M347 660h1M347 661h1M347 662h1M347 663h1M347 664h1M347 665h1M347 666h1M347 667h1M347 669h1M347 671h1M348 655h1M348 656h1M348 657h1M348 658h1M348 659h1M348 660h1M348 661h1M348 662h1M348 663h1M348 664h1M348 665h1M348 667h1M348 670h1M348 671h1M349 654h1M349 656h1M349 657h1M349 658h1M349 659h1M349 660h1M349 661h1M349 662h1M349 663h1M349 664h1M349 665h1M349 666h1M349 667h1M349 668h1M349 669h1M349 671h1M350 653h1M350 654h1M350 655h1M350 656h1M350 657h1M350 658h1M350 659h1M350 660h1M350 661h1M350 662h1M350 663h1M350 664h1M350 667h1M350 668h1M350 669h1M350 670h1M351 652h1M351 653h1M351 654h1M351 655h1M351 656h1M351 657h1M351 658h1M351 659h1M351 660h1M351 661h1M351 662h1M351 663h1M351 665h1M351 666h1M351 668h1M351 672h1M351 674h1M352 652h1M352 653h1M352 654h1M352 656h1M352 657h1M352 658h1M352 659h1M352 660h1M352 662h1M352 663h1M352 664h1M352 665h1M352 666h1M352 668h1M353 651h1M353 652h1M353 653h1M353 654h1M353 655h1M353 656h1M353 657h1M353 658h1M353 659h1M353 660h1M353 661h1M353 662h1M353 664h1M353 665h1M353 666h1M354 650h1M354 651h1M354 652h1M354 653h1M354 654h1M354 655h1M354 656h1M354 657h1M354 658h1M354 659h1M354 660h1M354 661h1M354 663h1M354 668h1M355 649h1M355 650h1M355 651h1M355 652h1M355 653h1M355 654h1M355 655h1M355 656h1M355 657h1M355 659h1M355 660h1M355 661h1M355 663h1M355 664h1M355 669h1M356 648h1M356 649h1M356 650h1M356 651h1M356 652h1M356 653h1M356 654h1M356 655h1M356 656h1M356 657h1M356 658h1M356 659h1M356 660h1M356 663h1M356 664h1M357 647h1M357 648h1M357 649h1M357 650h1M357 651h1M357 652h1M357 653h1M357 654h1M357 655h1M357 656h1M357 657h1M357 658h1M357 659h1M357 661h1M357 662h1M357 663h1M357 664h1M357 665h1M357 677h1M358 647h1M358 648h1M358 649h1M358 650h1M358 651h1M358 652h1M358 653h1M358 654h1M358 655h1M358 656h1M358 657h1M358 658h1M358 659h1M358 660h1M358 663h1M358 667h1M359 646h1M359 647h1M359 648h1M359 649h1M359 650h1M359 651h1M359 652h1M359 653h1M359 654h1M359 655h1M359 656h1M359 657h1M359 658h1M359 659h1M359 660h1M359 661h1M359 663h1M359 664h1M360 645h1M360 646h1M360 647h1M360 648h1M360 649h1M360 650h1M360 651h1M360 652h1M360 653h1M360 654h1M360 655h1M360 656h1M360 658h1M360 660h1M360 661h1M360 662h1M360 666h1M361 644h1M361 645h1M361 646h1M361 647h1M361 648h1M361 649h1M361 650h1M361 651h1M361 652h1M361 653h1M361 654h1M361 655h1M361 656h1M361 657h1M361 658h1M361 659h1M361 663h1M362 644h1M362 645h1M362 646h1M362 647h1M362 648h1M362 649h1M362 650h1M362 651h1M362 652h1M362 653h1M362 654h1M362 655h1M362 656h1M362 657h1M362 659h1M363 642h1M363 643h1M363 644h1M363 645h1M363 646h1M363 647h1M363 648h1M363 649h1M363 650h1M363 651h1M363 652h1M363 654h1M363 655h1M363 657h1M363 660h1M364 642h1M364 643h1M364 644h1M364 645h1M364 646h1M364 647h1M364 648h1M364 649h1M364 650h1M364 651h1M364 654h1M364 656h1M364 657h1M364 658h1M364 659h1M364 665h1M365 641h1M365 642h1M365 643h1M365 644h1M365 645h1M365 646h1M365 647h1M365 648h1M365 650h1M365 651h1M365 652h1M365 653h1M365 654h1M365 655h1M365 656h1M365 658h1M366 641h1M366 642h1M366 643h1M366 644h1M366 645h1M366 646h1M366 647h1M366 648h1M366 649h1M366 650h1M366 651h1M366 652h1M366 653h1M366 654h1M366 658h1M367 639h1M367 640h1M367 641h1M367 642h1M367 643h1M367 644h1M367 645h1M367 646h1M367 647h1M367 648h1M367 649h1M367 650h1M367 651h1M367 653h1M367 655h1M367 656h1M368 638h1M368 639h1M368 640h1M368 641h1M368 642h1M368 643h1M368 644h1M368 645h1M368 647h1M368 648h1M368 650h1M368 651h1M368 653h1M368 656h1M368 659h1M369 638h1M369 639h1M369 640h1M369 641h1M369 642h1M369 643h1M369 646h1M369 647h1M369 648h1M369 652h1M369 659h1M370 637h1M370 638h1M370 639h1M370 640h1M370 641h1M370 642h1M370 643h1M370 644h1M370 645h1M370 647h1M370 650h1M370 651h1M370 654h1M371 636h1M371 637h1M371 638h1M371 639h1M371 640h1M371 641h1M371 642h1M371 643h1M371 644h1M371 646h1M371 649h1M371 650h1M371 652h1M371 654h1M372 636h1M372 637h1M372 638h1M372 639h1M372 640h1M372 641h1M372 642h1M372 643h1M372 644h1M372 645h1M372 646h1M372 647h1M372 648h1M373 634h1M373 635h1M373 636h1M373 637h1M373 638h1M373 640h1M373 641h1M373 645h1M373 649h1M373 650h1M373 652h1M373 653h1M373 654h1M374 634h1M374 635h1M374 636h1M374 638h1M374 639h1M374 640h1M374 641h1M374 643h1M374 645h1M374 646h1M374 647h1M374 649h1M375 633h1M375 634h1M375 636h1M375 637h1M375 639h1M375 640h1M375 641h1M375 642h1M375 643h1M375 644h1M375 647h1M376 632h1M376 633h1M376 634h1M376 635h1M376 636h1M376 637h1M376 640h1M376 643h1M376 646h1M376 650h1M377 631h1M377 632h1M377 633h1M377 634h1M377 635h1M377 636h1M377 637h1M377 640h1M377 643h1M377 644h1M377 646h1M378 631h1M378 632h1M378 633h1M378 634h1M378 635h1M378 636h1M378 638h1M378 639h1M378 640h1M378 642h1M378 643h1M378 644h1M379 630h1M379 631h1M379 633h1M379 634h1M379 635h1M379 636h1M379 637h1M379 638h1M379 640h1M379 642h1M379 645h1M379 647h1M380 629h1M380 631h1M380 632h1M380 633h1M380 635h1M380 636h1M380 637h1M380 639h1M380 640h1M381 629h1M381 630h1M381 631h1M381 634h1M381 637h1M381 640h1M381 642h1M381 643h1M382 627h1M382 628h1M382 629h1M382 630h1M382 631h1M382 632h1M382 634h1M382 636h1M382 640h1M383 626h1M383 630h1M383 633h1M383 635h1M383 636h1M384 626h1M384 627h1M384 630h1M384 632h1M384 633h1M384 636h1M384 637h1M385 626h1M385 629h1M385 630h1M385 632h1M385 633h1M385 634h1M385 638h1M385 639h1M385 641h1M386 624h1M386 625h1M386 627h1M386 633h1M386 639h1M387 624h1M387 625h1M387 627h1M387 628h1M387 629h1M387 631h1M387 635h1M388 624h1M388 626h1M388 627h1M388 630h1M388 635h1M389 623h1M389 624h1M389 626h1M389 627h1M389 637h1M390 621h1M390 623h1M390 626h1M390 627h1M390 628h1M390 629h1M391 620h1M391 622h1M391 624h1M391 626h1M391 629h1M392 621h1M392 622h1M392 623h1M392 627h1M393 620h1M393 621h1M393 624h1M393 628h1M394 619h1M394 620h1M395 623h1M397 615h1M399 615h1M399 620h1M401 618h1M403 617h1M404 610h1M405 615h1M409 608h1"/><path stroke="#d800f8" d="M332 658h1M333 628h1M333 658h1M333 662h1M333 664h1M333 665h1M334 635h1M334 641h1M334 646h1M334 653h1M334 654h1M334 660h1M334 662h1M334 663h1M334 666h1M335 620h1M335 622h1M335 654h1M335 658h1M335 659h1M335 660h1M335 661h1M335 662h1M335 663h1M335 664h1M335 665h1M336 631h1M336 635h1M336 647h1M336 648h1M336 649h1M336 655h1M336 656h1M336 659h1M336 661h1M336 662h1M336 663h1M336 664h1M337 622h1M337 626h1M337 628h1M337 631h1M337 646h1M337 656h1M337 658h1M337 659h1M337 660h1M337 661h1M337 663h1M338 602h1M338 608h1M338 625h1M338 626h1M338 632h1M338 644h1M338 657h1M338 658h1M338 659h1M338 661h1M338 662h1M338 663h1M339 607h1M339 620h1M339 640h1M339 643h1M339 646h1M339 648h1M339 656h1M339 660h1M339 661h1M340 637h1M340 638h1M340 648h1M340 652h1M340 653h1M340 656h1M340 657h1M340 658h1M340 659h1M340 660h1M340 661h1M341 609h1M341 615h1M341 623h1M341 625h1M341 630h1M341 633h1M341 637h1M341 641h1M341 649h1M341 650h1M341 651h1M341 653h1M341 654h1M341 655h1M341 656h1M341 657h1M341 658h1M341 659h1M341 660h1M341 661h1M342 617h1M342 627h1M342 633h1M342 639h1M342 649h1M342 650h1M342 651h1M342 652h1M342 653h1M342 654h1M342 655h1M342 656h1M342 657h1M342 658h1M342 659h1M343 614h1M343 622h1M343 627h1M343 628h1M343 632h1M343 647h1M343 651h1M343 652h1M343 654h1M343 655h1M343 656h1M343 657h1M343 658h1M343 659h1M344 593h1M344 623h1M344 626h1M344 630h1M344 633h1M344 636h1M344 638h1M344 639h1M344 641h1M344 650h1M344 651h1M344 652h1M344 653h1M344 654h1M344 655h1M344 656h1M344 657h1M344 658h1M345 598h1M345 602h1M345 610h1M345 613h1M345 617h1M345 619h1M345 622h1M345 627h1M345 630h1M345 631h1M345 633h1M345 635h1M345 639h1M345 645h1M345 649h1M345 650h1M345 651h1M345 652h1M345 653h1M345 654h1M345 655h1M345 656h1M345 657h1M346 620h1M346 626h1M346 628h1M346 631h1M346 634h1M346 635h1M346 643h1M346 647h1M346 651h1M346 652h1M346 653h1M346 654h1M346 655h1M346 656h1M347 608h1M347 626h1M347 630h1M347 635h1M347 643h1M347 645h1M347 646h1M347 647h1M347 648h1M347 649h1M347 650h1M347 651h1M347 652h1M347 653h1M347 654h1M347 655h1M348 603h1M348 614h1M348 621h1M348 622h1M348 624h1M348 626h1M348 632h1M348 638h1M348 641h1M348 646h1M348 648h1M348 649h1M348 650h1M348 651h1M348 652h1M348 653h1M348 654h1M348 655h1M349 618h1M349 625h1M349 627h1M349 631h1M349 634h1M349 637h1M349 639h1M349 640h1M349 644h1M349 647h1M349 648h1M349 649h1M349 650h1M349 651h1M349 652h1M349 653h1M349 654h1M350 596h1M350 622h1M350 627h1M350 628h1M350 629h1M350 632h1M350 634h1M350 636h1M350 638h1M350 643h1M350 645h1M350 646h1M350 647h1M350 648h1M350 649h1M350 650h1M350 651h1M350 652h1M350 653h1M351 601h1M351 605h1M351 614h1M351 635h1M351 636h1M351 637h1M351 638h1M351 640h1M351 641h1M351 643h1M351 644h1M351 645h1M351 647h1M351 648h1M351 649h1M351 650h1M351 651h1M351 652h1M352 604h1M352 621h1M352 625h1M352 626h1M352 628h1M352 629h1M352 632h1M352 633h1M352 636h1M352 641h1M352 644h1M352 645h1M352 646h1M352 647h1M352 648h1M352 649h1M352 650h1M352 651h1M352 652h1M353 608h1M353 614h1M353 627h1M353 629h1M353 631h1M353 632h1M353 633h1M353 638h1M353 640h1M353 641h1M353 642h1M353 643h1M353 644h1M353 645h1M353 646h1M353 647h1M353 648h1M353 649h1M353 650h1M353 651h1M354 610h1M354 612h1M354 626h1M354 627h1M354 628h1M354 637h1M354 640h1M354 641h1M354 642h1M354 645h1M354 646h1M354 647h1M354 648h1M354 649h1M354 650h1M355 612h1M355 613h1M355 617h1M355 619h1M355 620h1M355 626h1M355 628h1M355 632h1M355 633h1M355 636h1M355 637h1M355 640h1M355 641h1M355 643h1M355 644h1M355 645h1M355 646h1M355 647h1M355 648h1M355 649h1M356 600h1M356 611h1M356 619h1M356 622h1M356 624h1M356 626h1M356 632h1M356 633h1M356 638h1M356 639h1M356 641h1M356 642h1M356 643h1M356 644h1M356 645h1M356 646h1M356 647h1M356 648h1M357 596h1M357 600h1M357 603h1M357 616h1M357 617h1M357 619h1M357 621h1M357 623h1M357 627h1M357 629h1M357 630h1M357 631h1M357 633h1M357 634h1M357 635h1M357 638h1M357 639h1M357 640h1M357 641h1M357 642h1M357 643h1M357 644h1M357 645h1M357 646h1M357 647h1M358 589h1M358 608h1M358 609h1M358 611h1M358 614h1M358 615h1M358 619h1M358 620h1M358 621h1M358 623h1M358 624h1M358 625h1M358 626h1M358 627h1M358 630h1M358 631h1M358 633h1M358 634h1M358 635h1M358 636h1M358 637h1M358 638h1M358 639h1M358 640h1M358 641h1M358 642h1M358 643h1M358 644h1M358 645h1M358 646h1M359 616h1M359 617h1M359 619h1M359 621h1M359 622h1M359 623h1M359 625h1M359 627h1M359 629h1M359 632h1M359 633h1M359 635h1M359 636h1M359 637h1M359 638h1M359 639h1M359 640h1M359 641h1M359 642h1M359 643h1M359 644h1M359 645h1M360 588h1M360 597h1M360 604h1M360 610h1M360 612h1M360 614h1M360 621h1M360 624h1M360 626h1M360 627h1M360 628h1M360 629h1M360 631h1M360 634h1M360 635h1M360 637h1M360 638h1M360 639h1M360 640h1M360 641h1M360 642h1M360 643h1M360 644h1M360 645h1M361 603h1M361 609h1M361 612h1M361 616h1M361 617h1M361 618h1M361 621h1M361 623h1M361 624h1M361 627h1M361 630h1M361 631h1M361 632h1M361 635h1M361 636h1M361 637h1M361 638h1M361 639h1M361 640h1M361 641h1M361 643h1M361 644h1M362 599h1M362 606h1M362 608h1M362 610h1M362 611h1M362 612h1M362 616h1M362 617h1M362 619h1M362 621h1M362 622h1M362 623h1M362 626h1M362 628h1M362 630h1M362 633h1M362 635h1M362 637h1M362 639h1M362 640h1M362 641h1M362 642h1M362 643h1M363 593h1M363 594h1M363 601h1M363 602h1M363 603h1M363 604h1M363 607h1M363 608h1M363 612h1M363 621h1M363 625h1M363 626h1M363 627h1M363 630h1M363 631h1M363 632h1M363 635h1M363 636h1M363 637h1M363 638h1M363 639h1M363 640h1M363 641h1M363 642h1M364 600h1M364 603h1M364 614h1M364 615h1M364 617h1M364 623h1M364 626h1M364 627h1M364 628h1M364 631h1M364 632h1M364 633h1M364 634h1M364 635h1M364 636h1M364 637h1M364 638h1M364 639h1M364 640h1M364 641h1M364 642h1M365 600h1M365 601h1M365 606h1M365 611h1M365 612h1M365 616h1M365 617h1M365 623h1M365 624h1M365 626h1M365 627h1M365 628h1M365 629h1M365 630h1M365 633h1M365 634h1M365 635h1M365 636h1M365 637h1M365 638h1M365 639h1M365 640h1M365 641h1M366 585h1M366 609h1M366 610h1M366 612h1M366 614h1M366 615h1M366 618h1M366 619h1M366 621h1M366 622h1M366 623h1M366 627h1M366 628h1M366 631h1M366 632h1M366 633h1M366 634h1M366 635h1M366 637h1M366 638h1M366 639h1M366 640h1M367 604h1M367 609h1M367 612h1M367 618h1M367 619h1M367 622h1M367 623h1M367 627h1M367 628h1M367 629h1M367 630h1M367 631h1M367 632h1M367 633h1M367 634h1M367 635h1M367 636h1M367 637h1M367 638h1M367 639h1M368 583h1M368 599h1M368 604h1M368 609h1M368 610h1M368 611h1M368 615h1M368 616h1M368 618h1M368 622h1M368 623h1M368 626h1M368 629h1M368 631h1M368 632h1M368 633h1M368 634h1M368 635h1M368 636h1M368 637h1M368 638h1M368 639h1M369 586h1M369 605h1M369 610h1M369 611h1M369 613h1M369 615h1M369 616h1M369 617h1M369 618h1M369 620h1M369 621h1M369 623h1M369 624h1M369 625h1M369 626h1M369 628h1M369 630h1M369 631h1M369 632h1M369 633h1M369 634h1M369 635h1M369 636h1M369 637h1M370 596h1M370 608h1M370 610h1M370 615h1M370 617h1M370 618h1M370 619h1M370 621h1M370 623h1M370 625h1M370 627h1M370 628h1M370 630h1M370 631h1M370 632h1M370 633h1M370 634h1M370 635h1M370 636h1M370 637h1M371 594h1M371 599h1M371 608h1M371 609h1M371 611h1M371 612h1M371 613h1M371 617h1M371 619h1M371 621h1M371 622h1M371 624h1M371 625h1M371 626h1M371 627h1M371 630h1M371 631h1M371 633h1M371 635h1M371 636h1M372 598h1M372 604h1M372 606h1M372 611h1M372 612h1M372 615h1M372 616h1M372 617h1M372 619h1M372 624h1M372 625h1M372 630h1M372 631h1M372 632h1M372 633h1M372 634h1M372 635h1M373 592h1M373 612h1M373 613h1M373 615h1M373 617h1M373 618h1M373 619h1M373 620h1M373 621h1M373 622h1M373 624h1M373 625h1M373 626h1M373 628h1M373 629h1M373 630h1M373 631h1M373 633h1M373 634h1M374 617h1M374 618h1M374 619h1M374 620h1M374 621h1M374 622h1M374 623h1M374 627h1M374 628h1M374 629h1M374 630h1M374 631h1M374 632h1M374 633h1M375 604h1M375 605h1M375 607h1M375 609h1M375 610h1M375 613h1M375 614h1M375 615h1M375 618h1M375 619h1M375 620h1M375 622h1M375 623h1M375 627h1M375 628h1M375 629h1M375 630h1M375 631h1M376 589h1M376 590h1M376 593h1M376 602h1M376 609h1M376 610h1M376 612h1M376 613h1M376 614h1M376 615h1M376 616h1M376 618h1M376 619h1M376 621h1M376 622h1M376 623h1M376 626h1M376 627h1M376 628h1M376 629h1M376 630h1M376 631h1M377 580h1M377 583h1M377 597h1M377 599h1M377 600h1M377 605h1M377 607h1M377 609h1M377 610h1M377 614h1M377 615h1M377 616h1M377 617h1M377 618h1M377 619h1M377 620h1M377 621h1M377 622h1M377 623h1M377 625h1M377 626h1M377 627h1M377 628h1M377 629h1M377 630h1M377 631h1M378 591h1M378 593h1M378 594h1M378 596h1M378 602h1M378 603h1M378 608h1M378 609h1M378 611h1M378 612h1M378 613h1M378 615h1M378 616h1M378 619h1M378 620h1M378 622h1M378 623h1M378 624h1M378 625h1M378 626h1M378 627h1M378 628h1M378 629h1M378 630h1M379 589h1M379 603h1M379 604h1M379 611h1M379 612h1M379 613h1M379 615h1M379 617h1M379 619h1M379 620h1M379 622h1M379 623h1M379 625h1M379 627h1M379 628h1M379 629h1M379 630h1M380 596h1M380 604h1M380 610h1M380 615h1M380 616h1M380 619h1M380 620h1M380 621h1M380 622h1M380 626h1M380 627h1M380 628h1M381 597h1M381 599h1M381 600h1M381 601h1M381 603h1M381 605h1M381 608h1M381 610h1M381 612h1M381 613h1M381 617h1M381 618h1M381 620h1M381 621h1M381 622h1M381 623h1M381 624h1M381 626h1M381 627h1M381 628h1M382 577h1M382 598h1M382 602h1M382 603h1M382 605h1M382 609h1M382 611h1M382 612h1M382 613h1M382 615h1M382 618h1M382 619h1M382 620h1M382 621h1M382 622h1M382 623h1M382 625h1M382 626h1M382 627h1M383 607h1M383 609h1M383 612h1M383 613h1M383 614h1M383 616h1M383 617h1M383 618h1M383 619h1M383 620h1M383 622h1M383 623h1M383 624h1M383 626h1M384 584h1M384 608h1M384 610h1M384 611h1M384 612h1M384 616h1M384 617h1M384 618h1M384 619h1M384 620h1M384 622h1M384 623h1M384 624h1M384 625h1M385 564h1M385 601h1M385 603h1M385 606h1M385 608h1M385 610h1M385 613h1M385 615h1M385 616h1M385 617h1M385 622h1M385 623h1M385 624h1M386 587h1M386 599h1M386 603h1M386 607h1M386 608h1M386 611h1M386 615h1M386 616h1M386 618h1M386 619h1M386 620h1M386 623h1M387 600h1M387 603h1M387 604h1M387 609h1M387 610h1M387 611h1M387 613h1M387 614h1M387 615h1M387 617h1M387 621h1M387 622h1M388 593h1M388 596h1M388 602h1M388 603h1M388 606h1M388 607h1M388 609h1M388 611h1M388 613h1M388 614h1M388 615h1M388 616h1M388 617h1M388 618h1M388 619h1M388 621h1M389 589h1M389 596h1M389 598h1M389 601h1M389 604h1M389 605h1M389 612h1M389 615h1M389 616h1M389 619h1M389 621h1M390 591h1M390 603h1M390 604h1M390 607h1M390 608h1M390 611h1M390 612h1M390 614h1M390 615h1M390 616h1M390 617h1M390 618h1M391 593h1M391 596h1M391 598h1M391 599h1M391 603h1M391 606h1M391 607h1M391 610h1M391 612h1M391 613h1M391 615h1M391 616h1M391 617h1M391 618h1M391 619h1M392 593h1M392 607h1M392 608h1M392 611h1M392 612h1M392 613h1M392 614h1M393 571h1M393 584h1M393 600h1M393 613h1M393 614h1M393 615h1M393 616h1M393 617h1M393 618h1M394 605h1M394 607h1M394 608h1M394 611h1M394 617h1M395 592h1M395 600h1M395 606h1M395 608h1M395 609h1M395 610h1M395 615h1M395 616h1M396 594h1M396 596h1M396 599h1M396 606h1M396 611h1M396 613h1M396 614h1M396 615h1M397 597h1M397 606h1M397 609h1M397 612h1M397 615h1M398 583h1M398 591h1M398 603h1M398 604h1M398 606h1M398 609h1M398 613h1M399 578h1M399 594h1M399 598h1M399 605h1M399 609h1M400 599h1M400 600h1M400 602h1M400 604h1M400 606h1M400 608h1M400 612h1M401 591h1M401 592h1M401 593h1M401 601h1M401 603h1M401 604h1M401 608h1M402 591h1M402 599h1M402 600h1M402 609h1M403 576h1M403 588h1M403 593h1M403 609h1"/></g><rect x="64.5" y="29.5" width="205.5" height="183" fill="none" stroke="#1c1c1c" stroke-width="1.15"/><path d="M140.5 29.5V136.4H270" fill="none" stroke="#1c1c1c" stroke-width="1.15"/><path d="M64.5 185.4L141 136.5H141L96.9 212.5" fill="none" stroke="#111" stroke-width="1.1"/><path d="M80 212.5v1.5M64.5 198.7h-1.5M89 212.5v1.5M64.5 190.7h-1.5M95.4 212.5v1.5M64.5 185h-1.5M100.4 212.5v1.5M64.5 180.5h-1.5M104.5 212.5v1.5M64.5 176.9h-1.5M107.9 212.5v1.5M64.5 173.8h-1.5M110.9 212.5v1.5M64.5 171.2h-1.5M113.5 212.5v1.5M64.5 168.8h-1.5M131.3 212.5v1.5M64.5 153h-1.5M140.4 212.5v1.5M64.5 144.9h-1.5M146.8 212.5v1.5M64.5 139.2h-1.5M151.8 212.5v1.5M64.5 134.8h-1.5M155.9 212.5v1.5M64.5 131.1h-1.5M159.3 212.5v1.5M64.5 128.1h-1.5M162.3 212.5v1.5M64.5 125.4h-1.5M164.9 212.5v1.5M64.5 123.1h-1.5M182.7 212.5v1.5M64.5 107.2h-1.5M191.8 212.5v1.5M64.5 99.2h-1.5M198.2 212.5v1.5M64.5 93.5h-1.5M203.2 212.5v1.5M64.5 89h-1.5M207.2 212.5v1.5M64.5 85.4h-1.5M210.7 212.5v1.5M64.5 82.3h-1.5M213.6 212.5v1.5M64.5 79.7h-1.5M216.3 212.5v1.5M64.5 77.3h-1.5M234.1 212.5v1.5M64.5 61.5h-1.5M243.1 212.5v1.5M64.5 53.4h-1.5M249.6 212.5v1.5M64.5 47.7h-1.5M254.5 212.5v1.5M64.5 43.3h-1.5M258.6 212.5v1.5M64.5 39.6h-1.5M262 212.5v1.5M64.5 36.6h-1.5M265 212.5v1.5M64.5 33.9h-1.5M267.6 212.5v1.5M64.5 31.6h-1.5" stroke="#333" stroke-width="0.8" fill="none"/><path d="M64.5 212.5v2.8M64.5 212.5h-3.2M115.9 212.5v2.8M64.5 166.8h-3.2M167.2 212.5v2.8M64.5 121h-3.2M218.6 212.5v2.8M64.5 75.2h-3.2M270 212.5v2.8M64.5 29.5h-3.2" stroke="#222" stroke-width="1.1" fill="none"/><text x="63.8" y="225.5" font-size="8.3">10<tspan font-size="5.5" dy="-3">0</tspan></text><text transform="translate(53,212.5) rotate(-90)" font-size="8.3">10<tspan font-size="5.5" dy="-3">0</tspan></text><text x="115.2" y="225.5" font-size="8.3">10<tspan font-size="5.5" dy="-3">1</tspan></text><text transform="translate(53,166.8) rotate(-90)" font-size="8.3">10<tspan font-size="5.5" dy="-3">1</tspan></text><text x="166.6" y="225.5" font-size="8.3">10<tspan font-size="5.5" dy="-3">2</tspan></text><text transform="translate(53,121) rotate(-90)" font-size="8.3">10<tspan font-size="5.5" dy="-3">2</tspan></text><text x="217.9" y="225.5" font-size="8.3">10<tspan font-size="5.5" dy="-3">3</tspan></text><text transform="translate(53,75.2) rotate(-90)" font-size="8.3">10<tspan font-size="5.5" dy="-3">3</tspan></text><text x="269.3" y="225.5" font-size="8.3">10<tspan font-size="5.5" dy="-3">4</tspan></text><text transform="translate(53,29.5) rotate(-90)" font-size="8.3">10<tspan font-size="5.5" dy="-3">4</tspan></text><text x="69.2" y="41.8" font-size="9.8" letter-spacing="-0.2">R4</text><text x="263.6" y="41.4" font-size="9.8" letter-spacing="-0.2" text-anchor="end">R2</text><text x="263.6" y="205.2" font-size="9.8" letter-spacing="-0.2" text-anchor="end">R3</text><rect x="332.5" y="29.5" width="205" height="183" fill="none" stroke="#1c1c1c" stroke-width="1.15"/><path d="M408.5 29.5V136.5H537.5" fill="none" stroke="#1c1c1c" stroke-width="1.15"/><path d="M332.5 185.8L409 137H409L364.7 212.5" fill="none" stroke="#111" stroke-width="1.1"/><path d="M347.9 212.5v1.5M332.5 198.7h-1.5M357 212.5v1.5M332.5 190.7h-1.5M363.4 212.5v1.5M332.5 185h-1.5M368.3 212.5v1.5M332.5 180.5h-1.5M372.4 212.5v1.5M332.5 176.9h-1.5M375.8 212.5v1.5M332.5 173.8h-1.5M378.8 212.5v1.5M332.5 171.2h-1.5M381.4 212.5v1.5M332.5 168.8h-1.5M399.2 212.5v1.5M332.5 153h-1.5M408.2 212.5v1.5M332.5 144.9h-1.5M414.6 212.5v1.5M332.5 139.2h-1.5M419.6 212.5v1.5M332.5 134.8h-1.5M423.6 212.5v1.5M332.5 131.1h-1.5M427.1 212.5v1.5M332.5 128.1h-1.5M430 212.5v1.5M332.5 125.4h-1.5M432.7 212.5v1.5M332.5 123.1h-1.5M450.4 212.5v1.5M332.5 107.2h-1.5M459.5 212.5v1.5M332.5 99.2h-1.5M465.9 212.5v1.5M332.5 93.5h-1.5M470.8 212.5v1.5M332.5 89h-1.5M474.9 212.5v1.5M332.5 85.4h-1.5M478.3 212.5v1.5M332.5 82.3h-1.5M481.3 212.5v1.5M332.5 79.7h-1.5M483.9 212.5v1.5M332.5 77.3h-1.5M501.7 212.5v1.5M332.5 61.5h-1.5M510.7 212.5v1.5M332.5 53.4h-1.5M517.1 212.5v1.5M332.5 47.7h-1.5M522.1 212.5v1.5M332.5 43.3h-1.5M526.1 212.5v1.5M332.5 39.6h-1.5M529.6 212.5v1.5M332.5 36.6h-1.5M532.5 212.5v1.5M332.5 33.9h-1.5M535.2 212.5v1.5M332.5 31.6h-1.5" stroke="#333" stroke-width="0.8" fill="none"/><path d="M332.5 212.5v2.8M332.5 212.5h-3.2M383.8 212.5v2.8M332.5 166.8h-3.2M435 212.5v2.8M332.5 121h-3.2M486.2 212.5v2.8M332.5 75.2h-3.2M537.5 212.5v2.8M332.5 29.5h-3.2" stroke="#222" stroke-width="1.1" fill="none"/><text x="331.8" y="225.5" font-size="8.3">10<tspan font-size="5.5" dy="-3">0</tspan></text><text transform="translate(323.1,212.5) rotate(-90)" font-size="8.3">10<tspan font-size="5.5" dy="-3">0</tspan></text><text x="383.1" y="225.5" font-size="8.3">10<tspan font-size="5.5" dy="-3">1</tspan></text><text transform="translate(323.1,166.8) rotate(-90)" font-size="8.3">10<tspan font-size="5.5" dy="-3">1</tspan></text><text x="434.3" y="225.5" font-size="8.3">10<tspan font-size="5.5" dy="-3">2</tspan></text><text transform="translate(323.1,121) rotate(-90)" font-size="8.3">10<tspan font-size="5.5" dy="-3">2</tspan></text><text x="485.6" y="225.5" font-size="8.3">10<tspan font-size="5.5" dy="-3">3</tspan></text><text transform="translate(323.1,75.2) rotate(-90)" font-size="8.3">10<tspan font-size="5.5" dy="-3">3</tspan></text><text x="536.8" y="225.5" font-size="8.3">10<tspan font-size="5.5" dy="-3">4</tspan></text><text transform="translate(323.1,29.5) rotate(-90)" font-size="8.3">10<tspan font-size="5.5" dy="-3">4</tspan></text><text x="337.2" y="41.8" font-size="9.8" letter-spacing="-0.2">R4</text><text x="532.2" y="41.4" font-size="9.8" letter-spacing="-0.2" text-anchor="end">R2</text><text x="531.2" y="205.2" font-size="9.8" letter-spacing="-0.2" text-anchor="end">R3</text><rect x="64" y="261" width="206" height="183" fill="none" stroke="#1c1c1c" stroke-width="1.15"/><path d="M138 261V381.3H270" fill="none" stroke="#1c1c1c" stroke-width="1.15"/><path d="M64 416.8L138.5 381.8H138.5L94.3 444" fill="none" stroke="#111" stroke-width="1.1"/><path d="M79.5 444v1.5M64 430.2h-1.5M88.6 444v1.5M64 422.2h-1.5M95 444v1.5M64 416.5h-1.5M100 444v1.5M64 412h-1.5M104.1 444v1.5M64 408.4h-1.5M107.5 444v1.5M64 405.3h-1.5M110.5 444v1.5M64 402.7h-1.5M113.1 444v1.5M64 400.3h-1.5M131 444v1.5M64 384.5h-1.5M140.1 444v1.5M64 376.4h-1.5M146.5 444v1.5M64 370.7h-1.5M151.5 444v1.5M64 366.3h-1.5M155.6 444v1.5M64 362.6h-1.5M159 444v1.5M64 359.6h-1.5M162 444v1.5M64 356.9h-1.5M164.6 444v1.5M64 354.6h-1.5M182.5 444v1.5M64 338.7h-1.5M191.6 444v1.5M64 330.7h-1.5M198 444v1.5M64 325h-1.5M203 444v1.5M64 320.5h-1.5M207.1 444v1.5M64 316.9h-1.5M210.5 444v1.5M64 313.8h-1.5M213.5 444v1.5M64 311.2h-1.5M216.1 444v1.5M64 308.8h-1.5M234 444v1.5M64 293h-1.5M243.1 444v1.5M64 284.9h-1.5M249.5 444v1.5M64 279.2h-1.5M254.5 444v1.5M64 274.8h-1.5M258.6 444v1.5M64 271.1h-1.5M262 444v1.5M64 268.1h-1.5M265 444v1.5M64 265.4h-1.5M267.6 444v1.5M64 263.1h-1.5" stroke="#333" stroke-width="0.8" fill="none"/><path d="M64 444v2.8M64 444h-3.2M115.5 444v2.8M64 398.2h-3.2M167 444v2.8M64 352.5h-3.2M218.5 444v2.8M64 306.8h-3.2M270 444v2.8M64 261h-3.2" stroke="#222" stroke-width="1.1" fill="none"/><text x="63.3" y="457" font-size="8.3">10<tspan font-size="5.5" dy="-3">0</tspan></text><text transform="translate(52.5,444) rotate(-90)" font-size="8.3">10<tspan font-size="5.5" dy="-3">0</tspan></text><text x="114.8" y="457" font-size="8.3">10<tspan font-size="5.5" dy="-3">1</tspan></text><text transform="translate(52.5,398.2) rotate(-90)" font-size="8.3">10<tspan font-size="5.5" dy="-3">1</tspan></text><text x="166.3" y="457" font-size="8.3">10<tspan font-size="5.5" dy="-3">2</tspan></text><text transform="translate(52.5,352.5) rotate(-90)" font-size="8.3">10<tspan font-size="5.5" dy="-3">2</tspan></text><text x="217.8" y="457" font-size="8.3">10<tspan font-size="5.5" dy="-3">3</tspan></text><text transform="translate(52.5,306.8) rotate(-90)" font-size="8.3">10<tspan font-size="5.5" dy="-3">3</tspan></text><text x="269.3" y="457" font-size="8.3">10<tspan font-size="5.5" dy="-3">4</tspan></text><text transform="translate(52.5,261) rotate(-90)" font-size="8.3">10<tspan font-size="5.5" dy="-3">4</tspan></text><text x="70.1" y="277.5" font-size="9.8" letter-spacing="-0.2">R4</text><text x="264.4" y="276.8" font-size="9.8" letter-spacing="-0.2" text-anchor="end">R2</text><text x="264.2" y="436.4" font-size="9.8" letter-spacing="-0.2" text-anchor="end">R3</text><rect x="332.5" y="263.5" width="204.8" height="183" fill="none" stroke="#1c1c1c" stroke-width="1.15"/><path d="M406 263.5V383.6H537.3" fill="none" stroke="#1c1c1c" stroke-width="1.15"/><path d="M332.5 419.4L406 383.8H406L361.9 446.5" fill="none" stroke="#111" stroke-width="1.1"/><path d="M347.9 446.5v1.5M332.5 432.7h-1.5M356.9 446.5v1.5M332.5 424.7h-1.5M363.3 446.5v1.5M332.5 419h-1.5M368.3 446.5v1.5M332.5 414.5h-1.5M372.3 446.5v1.5M332.5 410.9h-1.5M375.8 446.5v1.5M332.5 407.8h-1.5M378.7 446.5v1.5M332.5 405.2h-1.5M381.4 446.5v1.5M332.5 402.8h-1.5M399.1 446.5v1.5M332.5 387h-1.5M408.1 446.5v1.5M332.5 378.9h-1.5M414.5 446.5v1.5M332.5 373.2h-1.5M419.5 446.5v1.5M332.5 368.8h-1.5M423.5 446.5v1.5M332.5 365.1h-1.5M427 446.5v1.5M332.5 362.1h-1.5M429.9 446.5v1.5M332.5 359.4h-1.5M432.6 446.5v1.5M332.5 357.1h-1.5M450.3 446.5v1.5M332.5 341.2h-1.5M459.3 446.5v1.5M332.5 333.2h-1.5M465.7 446.5v1.5M332.5 327.5h-1.5M470.7 446.5v1.5M332.5 323h-1.5M474.7 446.5v1.5M332.5 319.4h-1.5M478.2 446.5v1.5M332.5 316.3h-1.5M481.1 446.5v1.5M332.5 313.7h-1.5M483.8 446.5v1.5M332.5 311.3h-1.5M501.5 446.5v1.5M332.5 295.5h-1.5M510.5 446.5v1.5M332.5 287.4h-1.5M516.9 446.5v1.5M332.5 281.7h-1.5M521.9 446.5v1.5M332.5 277.3h-1.5M525.9 446.5v1.5M332.5 273.6h-1.5M529.4 446.5v1.5M332.5 270.6h-1.5M532.3 446.5v1.5M332.5 267.9h-1.5M535 446.5v1.5M332.5 265.6h-1.5" stroke="#333" stroke-width="0.8" fill="none"/><path d="M332.5 446.5v2.8M332.5 446.5h-3.2M383.7 446.5v2.8M332.5 400.8h-3.2M434.9 446.5v2.8M332.5 355h-3.2M486.1 446.5v2.8M332.5 309.2h-3.2M537.3 446.5v2.8M332.5 263.5h-3.2" stroke="#222" stroke-width="1.1" fill="none"/><text x="331.8" y="459.5" font-size="8.3">10<tspan font-size="5.5" dy="-3">0</tspan></text><text transform="translate(323.1,446.5) rotate(-90)" font-size="8.3">10<tspan font-size="5.5" dy="-3">0</tspan></text><text x="383" y="459.5" font-size="8.3">10<tspan font-size="5.5" dy="-3">1</tspan></text><text transform="translate(323.1,400.8) rotate(-90)" font-size="8.3">10<tspan font-size="5.5" dy="-3">1</tspan></text><text x="434.2" y="459.5" font-size="8.3">10<tspan font-size="5.5" dy="-3">2</tspan></text><text transform="translate(323.1,355) rotate(-90)" font-size="8.3">10<tspan font-size="5.5" dy="-3">2</tspan></text><text x="485.4" y="459.5" font-size="8.3">10<tspan font-size="5.5" dy="-3">3</tspan></text><text transform="translate(323.1,309.2) rotate(-90)" font-size="8.3">10<tspan font-size="5.5" dy="-3">3</tspan></text><text x="536.6" y="459.5" font-size="8.3">10<tspan font-size="5.5" dy="-3">4</tspan></text><text transform="translate(323.1,263.5) rotate(-90)" font-size="8.3">10<tspan font-size="5.5" dy="-3">4</tspan></text><text x="338.6" y="280.2" font-size="9.8" letter-spacing="-0.2">R4</text><text x="532.1" y="278.9" font-size="9.8" letter-spacing="-0.2" text-anchor="end">R2</text><text x="531.4" y="438.6" font-size="9.8" letter-spacing="-0.2" text-anchor="end">R3</text><rect x="64.2" y="501.9" width="205.6" height="182.6" fill="none" stroke="#1c1c1c" stroke-width="1.15"/><path d="M138.3 501.9V609H269.8" fill="none" stroke="#1c1c1c" stroke-width="1.15"/><path d="M64.2 668.8L137.8 609H142.2L88.9 684.5" fill="none" stroke="#111" stroke-width="1.1"/><path d="M79.7 684.5v1.5M64.2 670.8h-1.5M88.7 684.5v1.5M64.2 662.7h-1.5M95.1 684.5v1.5M64.2 657h-1.5M100.1 684.5v1.5M64.2 652.6h-1.5M104.2 684.5v1.5M64.2 649h-1.5M107.6 684.5v1.5M64.2 645.9h-1.5M110.6 684.5v1.5M64.2 643.3h-1.5M113.2 684.5v1.5M64.2 640.9h-1.5M131.1 684.5v1.5M64.2 625.1h-1.5M140.1 684.5v1.5M64.2 617.1h-1.5M146.5 684.5v1.5M64.2 611.4h-1.5M151.5 684.5v1.5M64.2 606.9h-1.5M155.6 684.5v1.5M64.2 603.3h-1.5M159 684.5v1.5M64.2 600.3h-1.5M162 684.5v1.5M64.2 597.6h-1.5M164.6 684.5v1.5M64.2 595.3h-1.5M182.5 684.5v1.5M64.2 579.5h-1.5M191.5 684.5v1.5M64.2 571.4h-1.5M197.9 684.5v1.5M64.2 565.7h-1.5M202.9 684.5v1.5M64.2 561.3h-1.5M207 684.5v1.5M64.2 557.7h-1.5M210.4 684.5v1.5M64.2 554.6h-1.5M213.4 684.5v1.5M64.2 552h-1.5M216 684.5v1.5M64.2 549.6h-1.5M233.9 684.5v1.5M64.2 533.8h-1.5M242.9 684.5v1.5M64.2 525.8h-1.5M249.3 684.5v1.5M64.2 520.1h-1.5M254.3 684.5v1.5M64.2 515.6h-1.5M258.4 684.5v1.5M64.2 512h-1.5M261.8 684.5v1.5M64.2 509h-1.5M264.8 684.5v1.5M64.2 506.3h-1.5M267.4 684.5v1.5M64.2 504h-1.5" stroke="#333" stroke-width="0.8" fill="none"/><path d="M64.2 684.5v2.8M64.2 684.5h-3.2M115.6 684.5v2.8M64.2 638.9h-3.2M167 684.5v2.8M64.2 593.2h-3.2M218.4 684.5v2.8M64.2 547.5h-3.2M269.8 684.5v2.8M64.2 501.9h-3.2" stroke="#222" stroke-width="1.1" fill="none"/><text x="63.5" y="697.5" font-size="8.3">10<tspan font-size="5.5" dy="-3">0</tspan></text><text transform="translate(52.7,684.5) rotate(-90)" font-size="8.3">10<tspan font-size="5.5" dy="-3">0</tspan></text><text x="114.9" y="697.5" font-size="8.3">10<tspan font-size="5.5" dy="-3">1</tspan></text><text transform="translate(52.7,638.9) rotate(-90)" font-size="8.3">10<tspan font-size="5.5" dy="-3">1</tspan></text><text x="166.3" y="697.5" font-size="8.3">10<tspan font-size="5.5" dy="-3">2</tspan></text><text transform="translate(52.7,593.2) rotate(-90)" font-size="8.3">10<tspan font-size="5.5" dy="-3">2</tspan></text><text x="217.7" y="697.5" font-size="8.3">10<tspan font-size="5.5" dy="-3">3</tspan></text><text transform="translate(52.7,547.5) rotate(-90)" font-size="8.3">10<tspan font-size="5.5" dy="-3">3</tspan></text><text x="269.1" y="697.5" font-size="8.3">10<tspan font-size="5.5" dy="-3">4</tspan></text><text transform="translate(52.7,501.9) rotate(-90)" font-size="8.3">10<tspan font-size="5.5" dy="-3">4</tspan></text><text x="67.6" y="514.3" font-size="9.8" letter-spacing="-0.2">R4</text><text x="262.4" y="517.5" font-size="9.8" letter-spacing="-0.2" text-anchor="end">R2</text><text x="263.8" y="676.5" font-size="9.8" letter-spacing="-0.2" text-anchor="end">R3</text><rect x="332.4" y="502" width="205.1" height="182.5" fill="none" stroke="#1c1c1c" stroke-width="1.15"/><path d="M405.7 502V608.8H537.5" fill="none" stroke="#1c1c1c" stroke-width="1.15"/><path d="M332.4 668.2L405.7 608.8H410.4L356.5 684.5" fill="none" stroke="#111" stroke-width="1.1"/><path d="M347.8 684.5v1.5M332.4 670.8h-1.5M356.9 684.5v1.5M332.4 662.7h-1.5M363.3 684.5v1.5M332.4 657h-1.5M368.2 684.5v1.5M332.4 652.6h-1.5M372.3 684.5v1.5M332.4 649h-1.5M375.7 684.5v1.5M332.4 645.9h-1.5M378.7 684.5v1.5M332.4 643.3h-1.5M381.3 684.5v1.5M332.4 641h-1.5M399.1 684.5v1.5M332.4 625.1h-1.5M408.1 684.5v1.5M332.4 617.1h-1.5M414.5 684.5v1.5M332.4 611.4h-1.5M419.5 684.5v1.5M332.4 607h-1.5M423.6 684.5v1.5M332.4 603.4h-1.5M427 684.5v1.5M332.4 600.3h-1.5M430 684.5v1.5M332.4 597.7h-1.5M432.6 684.5v1.5M332.4 595.3h-1.5M450.4 684.5v1.5M332.4 579.5h-1.5M459.4 684.5v1.5M332.4 571.5h-1.5M465.8 684.5v1.5M332.4 565.8h-1.5M470.8 684.5v1.5M332.4 561.4h-1.5M474.8 684.5v1.5M332.4 557.7h-1.5M478.3 684.5v1.5M332.4 554.7h-1.5M481.3 684.5v1.5M332.4 552h-1.5M483.9 684.5v1.5M332.4 549.7h-1.5M501.7 684.5v1.5M332.4 533.9h-1.5M510.7 684.5v1.5M332.4 525.9h-1.5M517.1 684.5v1.5M332.4 520.2h-1.5M522.1 684.5v1.5M332.4 515.7h-1.5M526.1 684.5v1.5M332.4 512.1h-1.5M529.6 684.5v1.5M332.4 509.1h-1.5M532.5 684.5v1.5M332.4 506.4h-1.5M535.2 684.5v1.5M332.4 504.1h-1.5" stroke="#333" stroke-width="0.8" fill="none"/><path d="M332.4 684.5v2.8M332.4 684.5h-3.2M383.7 684.5v2.8M332.4 638.9h-3.2M434.9 684.5v2.8M332.4 593.2h-3.2M486.2 684.5v2.8M332.4 547.6h-3.2M537.5 684.5v2.8M332.4 502h-3.2" stroke="#222" stroke-width="1.1" fill="none"/><text x="331.7" y="697.7" font-size="9">10<tspan font-size="6" dy="-3.3">0</tspan></text><text transform="translate(323,684.5) rotate(-90)" font-size="8.3">10<tspan font-size="5.5" dy="-3">0</tspan></text><text x="383" y="697.7" font-size="9">10<tspan font-size="6" dy="-3.3">1</tspan></text><text transform="translate(323,638.9) rotate(-90)" font-size="8.3">10<tspan font-size="5.5" dy="-3">1</tspan></text><text x="434.2" y="697.7" font-size="9">10<tspan font-size="6" dy="-3.3">2</tspan></text><text transform="translate(323,593.2) rotate(-90)" font-size="8.3">10<tspan font-size="5.5" dy="-3">2</tspan></text><text x="485.5" y="697.7" font-size="9">10<tspan font-size="6" dy="-3.3">3</tspan></text><text transform="translate(323,547.6) rotate(-90)" font-size="8.3">10<tspan font-size="5.5" dy="-3">3</tspan></text><text x="536.8" y="697.7" font-size="9">10<tspan font-size="6" dy="-3.3">4</tspan></text><text transform="translate(323,502) rotate(-90)" font-size="8.3">10<tspan font-size="5.5" dy="-3">4</tspan></text><text x="335.6" y="514.6" font-size="9.8" letter-spacing="-0.2">R4</text><text x="530.6" y="517.5" font-size="9.8" letter-spacing="-0.2" text-anchor="end">R2</text><text x="531.5" y="677" font-size="9.8" letter-spacing="-0.2" text-anchor="end">R3</text>
<path d="M101.5 261.6H138M370 264.1H406" stroke="#000" stroke-width="1.3" fill="none"/><path d="M384 446.8H434" stroke="#1a1a80" stroke-width="1.6" fill="none"/><path d="M392 212.8H420" stroke="#3030a0" stroke-width="1" fill="none" opacity="0.6"/><rect x="416" y="604.5" width="2" height="1.5" fill="#9ad89a"/><rect x="422" y="362.5" width="2" height="1.5" fill="#9ad89a"/><path d="M395 112.5h1.2M116 355.5h1.2" stroke="#c050d0" stroke-width="1.2"/><path d="M434.5 679.5h1.2M405 618.5h1" stroke="#5050c0" stroke-width="1.2"/><text x="149.5" y="238.3" font-size="9.5">mIgG-PE</text><text x="420.5" y="237.2" font-size="9.5">34-PE</text><text x="146.5" y="473" font-size="9.5">mIgG-PE</text><text x="421" y="472.6" font-size="9.5">34-PE</text><text x="151.5" y="713" font-size="9.5">mIgG-PE</text><text x="422.5" y="712.2" font-size="10.6">34-PE</text><text transform="translate(31.8,144.9) rotate(-90)" font-size="9.5">mIgG-FITC</text><text transform="translate(305.3,138) rotate(-90)" font-size="9.5">38-FITC</text><text transform="translate(35.5,376.6) rotate(-90)" font-size="9.5">mIgG-FITC</text><text transform="translate(305.3,370) rotate(-90)" font-size="9.5">38-FITC</text><text transform="translate(35.5,617) rotate(-90)" font-size="9.5">mIgG-FITC</text><text transform="translate(305.3,610) rotate(-90)" font-size="9.5">38-FITC</text><text x="472.6" y="179.7" font-family='"Liberation Serif", serif' font-size="14.5">9.24%</text><text x="473.8" y="418.6" font-family='"Liberation Serif", serif' font-size="14.5">14.43%</text><text x="481.5" y="651" font-family='"Liberation Serif", serif' font-size="14.5">0.14%</text><text x="146.3" y="10.7" font-family='"Liberation Serif", serif' font-weight="bold" font-size="14">Isotype</text><text x="392.7" y="14.2" font-family='"Liberation Serif", serif' font-weight="bold" font-size="13">CD34 / CD38</text><text x="5.8" y="31" font-family='"Liberation Serif", serif' font-weight="bold" font-size="16">A</text><text x="10.9" y="265.4" font-family='"Liberation Serif", serif' font-weight="bold" font-size="16">B</text><text x="9.9" y="499.8" font-family='"Liberation Serif", serif' font-weight="bold" font-size="16">C</text><text transform="translate(12.6,179.7) rotate(-90)" font-family='"Liberation Serif", serif' font-weight="bold" font-size="16.1">Static cultures</text><text transform="translate(18.8,402.5) rotate(-90)" font-family='"Liberation Serif", serif' font-weight="bold" font-size="16.1">Shake cultures</text><text transform="translate(18.7,650.7) rotate(-90)" font-family='"Liberation Serif", serif' font-weight="bold" font-size="16.1">Stirred cultures</text>
</svg>
</body></html>
